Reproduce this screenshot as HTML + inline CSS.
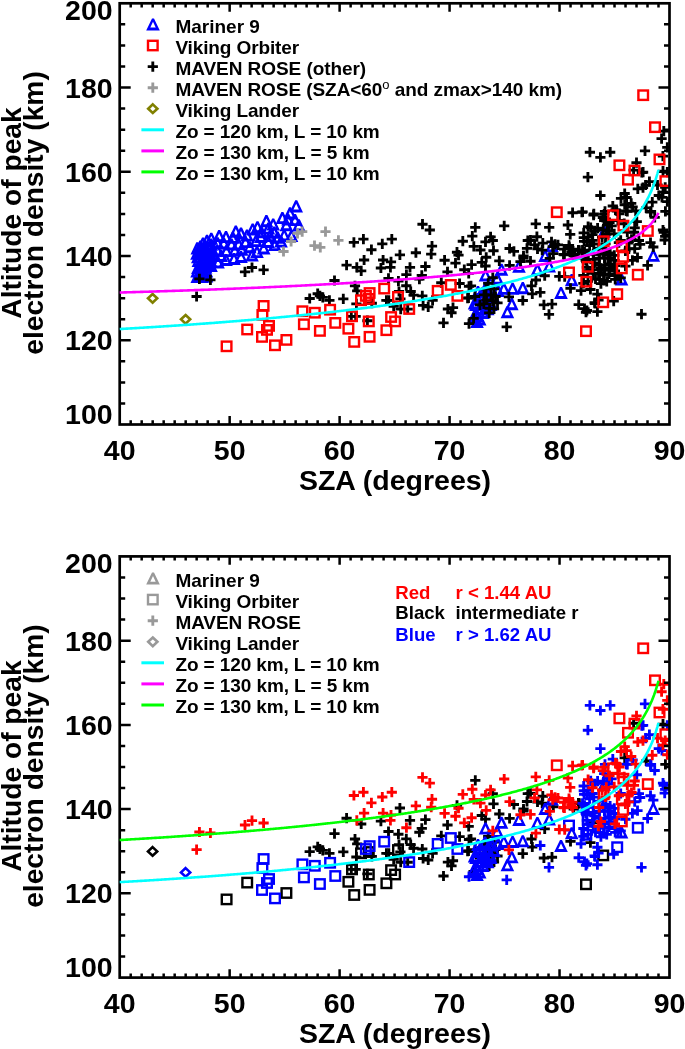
<!DOCTYPE html><html><head><meta charset="utf-8"><style>html,body{margin:0;padding:0;background:#fff;}svg{display:block;will-change:transform}</style></head><body>
<svg width="685" height="1049" viewBox="0 0 685 1049">
<rect width="685" height="1049" fill="#fff"/>
<defs><clipPath id="c1"><rect x="119.7" y="3.3" width="549.8" height="421.2"/></clipPath><clipPath id="c2"><rect x="119.7" y="556.4" width="549.8" height="421.2"/></clipPath></defs>
<g clip-path="url(#c1)"><path d="M478.7 281.6L492.3 281.6L486.5 269.5L484.5 269.5ZM482.8 278.6L488.2 278.6L485.5 272.9Z" fill="#0000ff" fill-rule="evenodd"/>
<path d="M494.7 275.7L508.3 275.7L502.5 263.7L500.5 263.7ZM498.8 272.8L504.2 272.8L501.5 267.1Z" fill="#0000ff" fill-rule="evenodd"/>
<path d="M512.2 272.8L525.8 272.8L520.0 260.8L518.0 260.8ZM516.3 269.9L521.7 269.9L519.0 264.2Z" fill="#0000ff" fill-rule="evenodd"/>
<path d="M490.4 284.7L504.0 284.7L498.2 272.6L496.2 272.6ZM494.5 281.8L499.9 281.8L497.2 276.0Z" fill="#0000ff" fill-rule="evenodd"/>
<path d="M530.6 275.8L544.2 275.8L538.4 263.8L536.4 263.8ZM534.7 272.9L540.1 272.9L537.4 267.2Z" fill="#0000ff" fill-rule="evenodd"/>
<path d="M505.8 294.8L519.4 294.8L513.6 282.8L511.6 282.8ZM509.9 291.9L515.3 291.9L512.6 286.2Z" fill="#0000ff" fill-rule="evenodd"/>
<path d="M516.0 294.2L529.6 294.2L523.8 282.1L521.8 282.1ZM520.1 291.2L525.5 291.2L522.8 285.5Z" fill="#0000ff" fill-rule="evenodd"/>
<path d="M497.0 294.8L510.6 294.8L504.8 282.8L502.8 282.8ZM501.1 291.9L506.5 291.9L503.8 286.2Z" fill="#0000ff" fill-rule="evenodd"/>
<path d="M491.2 297.1L504.8 297.1L499.0 285.0L497.0 285.0ZM495.3 294.1L500.7 294.1L498.0 288.4Z" fill="#0000ff" fill-rule="evenodd"/>
<path d="M482.4 298.4L496.0 298.4L490.2 286.4L488.2 286.4ZM486.5 295.5L491.9 295.5L489.2 289.8Z" fill="#0000ff" fill-rule="evenodd"/>
<path d="M473.6 301.4L487.2 301.4L481.4 289.4L479.4 289.4ZM477.7 298.5L483.1 298.5L480.4 292.8Z" fill="#0000ff" fill-rule="evenodd"/>
<path d="M470.7 305.1L484.3 305.1L478.5 293.0L476.5 293.0ZM474.8 302.1L480.2 302.1L477.5 296.4Z" fill="#0000ff" fill-rule="evenodd"/>
<path d="M478.0 307.9L491.6 307.9L485.8 295.9L483.8 295.9ZM482.1 305.0L487.5 305.0L484.8 299.3Z" fill="#0000ff" fill-rule="evenodd"/>
<path d="M475.1 310.9L488.7 310.9L482.9 298.9L480.9 298.9ZM479.2 308.0L484.6 308.0L481.9 302.3Z" fill="#0000ff" fill-rule="evenodd"/>
<path d="M483.9 310.9L497.5 310.9L491.7 298.9L489.7 298.9ZM488.0 308.0L493.4 308.0L490.7 302.3Z" fill="#0000ff" fill-rule="evenodd"/>
<path d="M480.9 315.2L494.5 315.2L488.7 303.2L486.7 303.2ZM485.0 312.3L490.4 312.3L487.7 306.6Z" fill="#0000ff" fill-rule="evenodd"/>
<path d="M472.2 318.2L485.8 318.2L480.0 306.2L478.0 306.2ZM476.3 315.3L481.7 315.3L479.0 309.6Z" fill="#0000ff" fill-rule="evenodd"/>
<path d="M470.7 322.6L484.3 322.6L478.5 310.5L476.5 310.5ZM474.8 319.6L480.2 319.6L477.5 313.9Z" fill="#0000ff" fill-rule="evenodd"/>
<path d="M472.9 325.6L486.5 325.6L480.7 313.5L478.7 313.5ZM477.0 322.6L482.4 322.6L479.7 316.9Z" fill="#0000ff" fill-rule="evenodd"/>
<path d="M505.0 310.2L518.6 310.2L512.8 298.1L510.8 298.1ZM509.1 307.2L514.5 307.2L511.8 301.5Z" fill="#0000ff" fill-rule="evenodd"/>
<path d="M500.6 318.2L514.2 318.2L508.4 306.2L506.4 306.2ZM504.7 315.3L510.1 315.3L507.4 309.6Z" fill="#0000ff" fill-rule="evenodd"/>
<path d="M554.2 298.9L567.8 298.9L562.0 286.9L560.0 286.9ZM558.3 296.0L563.7 296.0L561.0 290.3Z" fill="#0000ff" fill-rule="evenodd"/>
<path d="M467.8 309.4L481.4 309.4L475.6 297.4L473.6 297.4ZM471.9 306.5L477.3 306.5L474.6 300.8Z" fill="#0000ff" fill-rule="evenodd"/>
<path d="M538.3 261.9L551.9 261.9L546.1 249.9L544.1 249.9ZM542.4 259.0L547.8 259.0L545.1 253.3Z" fill="#0000ff" fill-rule="evenodd"/>
<path d="M542.4 272.6L556.0 272.6L550.2 260.5L548.2 260.5ZM546.5 269.6L551.9 269.6L549.2 263.9Z" fill="#0000ff" fill-rule="evenodd"/>
<path d="M564.9 286.2L578.5 286.2L572.7 274.1L570.7 274.1ZM569.0 283.2L574.4 283.2L571.7 277.5Z" fill="#0000ff" fill-rule="evenodd"/>
<path d="M646.5 261.8L660.1 261.8L654.3 249.8L652.3 249.8ZM650.6 258.9L656.0 258.9L653.3 253.2Z" fill="#0000ff" fill-rule="evenodd"/>
<path d="M614.7 285.4L628.3 285.4L622.5 273.4L620.5 273.4ZM618.8 282.5L624.2 282.5L621.5 276.8Z" fill="#0000ff" fill-rule="evenodd"/>
<path d="M545.2 252.3L558.8 252.3L553.0 240.3L551.0 240.3ZM549.3 249.4L554.7 249.4L552.0 243.7Z" fill="#0000ff" fill-rule="evenodd"/>
<path d="M597.4 237.7L611.0 237.7L605.2 225.7L603.2 225.7ZM601.5 234.8L606.9 234.8L604.2 229.1Z" fill="#0000ff" fill-rule="evenodd"/>
<path d="M471.2 297.9L484.8 297.9L479.0 285.9L477.0 285.9ZM475.3 295.0L480.7 295.0L478.0 289.3Z" fill="#0000ff" fill-rule="evenodd"/>
<path d="M478.2 295.4L491.8 295.4L486.0 283.4L484.0 283.4ZM482.3 292.5L487.7 292.5L485.0 286.8Z" fill="#0000ff" fill-rule="evenodd"/>
<path d="M485.2 297.9L498.8 297.9L493.0 285.9L491.0 285.9ZM489.3 295.0L494.7 295.0L492.0 289.3Z" fill="#0000ff" fill-rule="evenodd"/>
<path d="M481.2 302.9L494.8 302.9L489.0 290.9L487.0 290.9ZM485.3 300.0L490.7 300.0L488.0 294.3Z" fill="#0000ff" fill-rule="evenodd"/>
<path d="M475.2 304.9L488.8 304.9L483.0 292.9L481.0 292.9ZM479.3 302.0L484.7 302.0L482.0 296.3Z" fill="#0000ff" fill-rule="evenodd"/>
<path d="M469.2 310.9L482.8 310.9L477.0 298.9L475.0 298.9ZM473.3 308.0L478.7 308.0L476.0 302.3Z" fill="#0000ff" fill-rule="evenodd"/>
<path d="M483.2 308.4L496.8 308.4L491.0 296.4L489.0 296.4ZM487.3 305.5L492.7 305.5L490.0 299.8Z" fill="#0000ff" fill-rule="evenodd"/>
<path d="M487.2 303.9L500.8 303.9L495.0 291.9L493.0 291.9ZM491.3 301.0L496.7 301.0L494.0 295.3Z" fill="#0000ff" fill-rule="evenodd"/>
<path d="M473.2 314.9L486.8 314.9L481.0 302.9L479.0 302.9ZM477.3 312.0L482.7 312.0L480.0 306.3Z" fill="#0000ff" fill-rule="evenodd"/>
<path d="M479.2 313.4L492.8 313.4L487.0 301.4L485.0 301.4ZM483.3 310.5L488.7 310.5L486.0 304.8Z" fill="#0000ff" fill-rule="evenodd"/>
<path d="M467.2 322.9L480.8 322.9L475.0 310.9L473.0 310.9ZM471.3 320.0L476.7 320.0L474.0 314.3Z" fill="#0000ff" fill-rule="evenodd"/>
<path d="M470.2 327.9L483.8 327.9L478.0 315.9L476.0 315.9ZM474.3 325.0L479.7 325.0L477.0 319.3Z" fill="#0000ff" fill-rule="evenodd"/>
<path d="M476.2 318.9L489.8 318.9L484.0 306.9L482.0 306.9ZM480.3 316.0L485.7 316.0L483.0 310.3Z" fill="#0000ff" fill-rule="evenodd"/>
<path d="M289.4 212.4L303.0 212.4L297.2 200.3L295.2 200.3ZM293.5 209.5L298.9 209.5L296.2 203.7Z" fill="#0000ff" fill-rule="evenodd"/>
<path d="M283.2 219.4L296.8 219.4L291.0 207.3L289.0 207.3ZM287.3 216.5L292.7 216.5L290.0 210.7Z" fill="#0000ff" fill-rule="evenodd"/>
<path d="M292.0 231.4L305.6 231.4L299.8 219.3L297.8 219.3ZM296.1 228.5L301.5 228.5L298.8 222.7Z" fill="#0000ff" fill-rule="evenodd"/>
<path d="M275.6 224.1L289.2 224.1L283.4 212.0L281.4 212.0ZM279.7 221.2L285.1 221.2L282.4 215.4Z" fill="#0000ff" fill-rule="evenodd"/>
<path d="M259.6 227.2L273.2 227.2L267.4 215.1L265.4 215.1ZM263.7 224.2L269.1 224.2L266.4 218.5Z" fill="#0000ff" fill-rule="evenodd"/>
<path d="M266.4 230.5L280.0 230.5L274.2 218.4L272.2 218.4ZM270.5 227.6L275.9 227.6L273.2 221.8Z" fill="#0000ff" fill-rule="evenodd"/>
<path d="M279.6 231.2L293.2 231.2L287.4 219.1L285.4 219.1ZM283.7 228.2L289.1 228.2L286.4 222.5Z" fill="#0000ff" fill-rule="evenodd"/>
<path d="M250.7 233.2L264.3 233.2L258.5 221.2L256.5 221.2ZM254.8 230.3L260.2 230.3L257.5 224.6Z" fill="#0000ff" fill-rule="evenodd"/>
<path d="M245.9 235.5L259.5 235.5L253.7 223.4L251.7 223.4ZM250.0 232.6L255.4 232.6L252.7 226.8Z" fill="#0000ff" fill-rule="evenodd"/>
<path d="M240.2 241.6L253.8 241.6L248.0 229.5L246.0 229.5ZM244.3 238.7L249.7 238.7L247.0 232.9Z" fill="#0000ff" fill-rule="evenodd"/>
<path d="M277.4 241.5L291.0 241.5L285.2 229.4L283.2 229.4ZM281.5 238.6L286.9 238.6L284.2 232.8Z" fill="#0000ff" fill-rule="evenodd"/>
<path d="M270.8 243.7L284.4 243.7L278.6 231.6L276.6 231.6ZM274.9 240.8L280.3 240.8L277.6 235.0Z" fill="#0000ff" fill-rule="evenodd"/>
<path d="M261.3 248.0L274.9 248.0L269.1 235.9L267.1 235.9ZM265.4 245.1L270.8 245.1L268.1 239.3Z" fill="#0000ff" fill-rule="evenodd"/>
<path d="M254.0 242.9L267.6 242.9L261.8 230.8L259.8 230.8ZM258.1 240.0L263.5 240.0L260.8 234.2Z" fill="#0000ff" fill-rule="evenodd"/>
<path d="M267.9 251.1L281.5 251.1L275.7 239.0L273.7 239.0ZM272.0 248.2L277.4 248.2L274.7 242.4Z" fill="#0000ff" fill-rule="evenodd"/>
<path d="M284.7 242.1L298.3 242.1L292.5 230.0L290.5 230.0ZM288.8 239.2L294.2 239.2L291.5 233.4Z" fill="#0000ff" fill-rule="evenodd"/>
<path d="M267.4 238.7L281.0 238.7L275.2 226.6L273.2 226.6ZM271.5 235.8L276.9 235.8L274.2 230.0Z" fill="#0000ff" fill-rule="evenodd"/>
<path d="M254.6 238.2L268.2 238.2L262.4 226.2L260.4 226.2ZM258.7 235.3L264.1 235.3L261.4 229.6Z" fill="#0000ff" fill-rule="evenodd"/>
<path d="M256.9 254.5L270.5 254.5L264.7 242.4L262.7 242.4ZM261.0 251.6L266.4 251.6L263.7 245.8Z" fill="#0000ff" fill-rule="evenodd"/>
<path d="M242.9 253.2L256.5 253.2L250.7 241.2L248.7 241.2ZM247.0 250.3L252.4 250.3L249.7 244.6Z" fill="#0000ff" fill-rule="evenodd"/>
<path d="M245.2 261.4L258.8 261.4L253.0 249.4L251.0 249.4ZM249.3 258.6L254.7 258.6L252.0 252.8Z" fill="#0000ff" fill-rule="evenodd"/>
<path d="M261.6 234.6L275.2 234.6L269.4 222.5L267.4 222.5ZM265.7 231.7L271.1 231.7L268.4 225.9Z" fill="#0000ff" fill-rule="evenodd"/>
<path d="M249.2 247.1L262.8 247.1L257.0 235.0L255.0 235.0ZM253.3 244.2L258.7 244.2L256.0 238.4Z" fill="#0000ff" fill-rule="evenodd"/>
<path d="M274.2 247.6L287.8 247.6L282.0 235.5L280.0 235.5ZM278.3 244.7L283.7 244.7L281.0 238.9Z" fill="#0000ff" fill-rule="evenodd"/>
<path d="M288.2 226.1L301.8 226.1L296.0 214.0L294.0 214.0ZM292.3 223.2L297.7 223.2L295.0 217.4Z" fill="#0000ff" fill-rule="evenodd"/>
<path d="M281.2 225.6L294.8 225.6L289.0 213.5L287.0 213.5ZM285.3 222.7L290.7 222.7L288.0 216.9Z" fill="#0000ff" fill-rule="evenodd"/>
<path d="M238.7 248.1L252.3 248.1L246.5 236.0L244.5 236.0ZM242.8 245.2L248.2 245.2L245.5 239.4Z" fill="#0000ff" fill-rule="evenodd"/>
<path d="M250.2 258.1L263.8 258.1L258.0 246.0L256.0 246.0ZM254.3 255.2L259.7 255.2L257.0 249.4Z" fill="#0000ff" fill-rule="evenodd"/>
<path d="M263.2 242.1L276.8 242.1L271.0 230.0L269.0 230.0ZM267.3 239.2L272.7 239.2L270.0 233.4Z" fill="#0000ff" fill-rule="evenodd"/>
<path d="M190.5 254.4L204.1 254.4L198.3 242.3L196.3 242.3ZM194.6 251.5L200.0 251.5L197.3 245.7Z" fill="#0000ff" fill-rule="evenodd"/>
<path d="M196.2 249.6L209.8 249.6L204.0 237.5L202.0 237.5ZM200.3 246.7L205.7 246.7L203.0 240.9Z" fill="#0000ff" fill-rule="evenodd"/>
<path d="M200.2 246.9L213.8 246.9L208.0 234.8L206.0 234.8ZM204.3 244.0L209.7 244.0L207.0 238.2Z" fill="#0000ff" fill-rule="evenodd"/>
<path d="M204.5 244.8L218.1 244.8L212.3 232.7L210.3 232.7ZM208.6 241.8L214.0 241.8L211.3 236.1Z" fill="#0000ff" fill-rule="evenodd"/>
<path d="M212.4 242.1L226.0 242.1L220.2 230.0L218.2 230.0ZM216.5 239.2L221.9 239.2L219.2 233.4Z" fill="#0000ff" fill-rule="evenodd"/>
<path d="M219.2 243.1L232.8 243.1L227.0 231.0L225.0 231.0ZM223.3 240.2L228.7 240.2L226.0 234.4Z" fill="#0000ff" fill-rule="evenodd"/>
<path d="M229.0 237.7L242.6 237.7L236.8 225.6L234.8 225.6ZM233.1 234.8L238.5 234.8L235.8 229.0Z" fill="#0000ff" fill-rule="evenodd"/>
<path d="M234.2 239.6L247.8 239.6L242.0 227.5L240.0 227.5ZM238.3 236.7L243.7 236.7L241.0 230.9Z" fill="#0000ff" fill-rule="evenodd"/>
<path d="M190.5 282.9L204.1 282.9L198.3 270.8L196.3 270.8ZM194.6 279.9L200.0 279.9L197.3 274.2Z" fill="#0000ff" fill-rule="evenodd"/>
<path d="M195.2 283.1L208.8 283.1L203.0 271.0L201.0 271.0ZM199.3 280.1L204.7 280.1L202.0 274.4Z" fill="#0000ff" fill-rule="evenodd"/>
<path d="M199.7 282.6L213.3 282.6L207.5 270.5L205.5 270.5ZM203.8 279.6L209.2 279.6L206.5 273.9Z" fill="#0000ff" fill-rule="evenodd"/>
<path d="M204.2 272.1L217.8 272.1L212.0 260.0L210.0 260.0ZM208.3 269.1L213.7 269.1L211.0 263.4Z" fill="#0000ff" fill-rule="evenodd"/>
<path d="M211.2 268.6L224.8 268.6L219.0 256.5L217.0 256.5ZM215.3 265.6L220.7 265.6L218.0 259.9Z" fill="#0000ff" fill-rule="evenodd"/>
<path d="M219.2 266.1L232.8 266.1L227.0 254.0L225.0 254.0ZM223.3 263.1L228.7 263.1L226.0 257.4Z" fill="#0000ff" fill-rule="evenodd"/>
<path d="M227.2 265.1L240.8 265.1L235.0 253.0L233.0 253.0ZM231.3 262.1L236.7 262.1L234.0 256.4Z" fill="#0000ff" fill-rule="evenodd"/>
<path d="M234.2 263.1L247.8 263.1L242.0 251.0L240.0 251.0ZM238.3 260.1L243.7 260.1L241.0 254.4Z" fill="#0000ff" fill-rule="evenodd"/>
<path d="M210.6 256.7L224.2 256.7L218.4 244.7L216.4 244.7ZM214.7 253.8L220.1 253.8L217.4 248.1Z" fill="#0000ff" fill-rule="evenodd"/>
<path d="M231.8 250.3L245.4 250.3L239.6 238.2L237.6 238.2ZM235.9 247.4L241.3 247.4L238.6 241.6Z" fill="#0000ff" fill-rule="evenodd"/>
<path d="M198.5 265.7L212.1 265.7L206.3 253.6L204.3 253.6ZM202.6 262.8L208.0 262.8L205.3 257.0Z" fill="#0000ff" fill-rule="evenodd"/>
<path d="M194.4 260.4L208.0 260.4L202.2 248.4L200.2 248.4ZM198.5 257.5L203.9 257.5L201.2 251.8Z" fill="#0000ff" fill-rule="evenodd"/>
<path d="M194.3 276.8L207.9 276.8L202.1 264.7L200.1 264.7ZM198.4 273.9L203.8 273.9L201.1 268.1Z" fill="#0000ff" fill-rule="evenodd"/>
<path d="M219.6 257.1L233.2 257.1L227.4 245.0L225.4 245.0ZM223.7 254.2L229.1 254.2L226.4 248.4Z" fill="#0000ff" fill-rule="evenodd"/>
<path d="M198.8 256.1L212.4 256.1L206.6 244.0L204.6 244.0ZM202.9 253.2L208.3 253.2L205.6 247.4Z" fill="#0000ff" fill-rule="evenodd"/>
<path d="M191.6 267.0L205.2 267.0L199.4 255.0L197.4 255.0ZM195.7 264.1L201.1 264.1L198.4 258.4Z" fill="#0000ff" fill-rule="evenodd"/>
<path d="M210.8 249.3L224.4 249.3L218.6 237.2L216.6 237.2ZM214.9 246.4L220.3 246.4L217.6 240.6Z" fill="#0000ff" fill-rule="evenodd"/>
<path d="M228.0 256.5L241.6 256.5L235.8 244.5L233.8 244.5ZM232.1 253.6L237.5 253.6L234.8 247.9Z" fill="#0000ff" fill-rule="evenodd"/>
<path d="M204.4 250.7L218.0 250.7L212.2 238.6L210.2 238.6ZM208.5 247.8L213.9 247.8L211.2 242.0Z" fill="#0000ff" fill-rule="evenodd"/>
<path d="M224.7 250.5L238.3 250.5L232.5 238.4L230.5 238.4ZM228.8 247.6L234.2 247.6L231.5 241.8Z" fill="#0000ff" fill-rule="evenodd"/>
<path d="M190.2 259.8L203.8 259.8L198.0 247.8L196.0 247.8ZM194.3 256.9L199.7 256.9L197.0 251.2Z" fill="#0000ff" fill-rule="evenodd"/>
<path d="M193.5 271.3L207.1 271.3L201.3 259.2L199.3 259.2ZM197.6 268.4L203.0 268.4L200.3 262.6Z" fill="#0000ff" fill-rule="evenodd"/>
<path d="M226.1 243.8L239.7 243.8L233.9 231.8L231.9 231.8ZM230.2 240.9L235.6 240.9L232.9 235.2Z" fill="#0000ff" fill-rule="evenodd"/>
<path d="M198.8 273.4L212.4 273.4L206.6 261.3L204.6 261.3ZM202.9 270.5L208.3 270.5L205.6 264.7Z" fill="#0000ff" fill-rule="evenodd"/>
<path d="M203.9 267.2L217.5 267.2L211.7 255.2L209.7 255.2ZM208.0 264.3L213.4 264.3L210.7 258.6Z" fill="#0000ff" fill-rule="evenodd"/>
<path d="M199.7 261.1L213.3 261.1L207.5 249.1L205.5 249.1ZM203.8 258.2L209.2 258.2L206.5 252.5Z" fill="#0000ff" fill-rule="evenodd"/>
<path d="M200.9 268.9L214.5 268.9L208.7 256.9L206.7 256.9ZM205.0 266.0L210.4 266.0L207.7 260.3Z" fill="#0000ff" fill-rule="evenodd"/>
<path d="M217.0 249.5L230.6 249.5L224.8 237.4L222.8 237.4ZM221.1 246.6L226.5 246.6L223.8 240.8Z" fill="#0000ff" fill-rule="evenodd"/>
<path d="M206.0 261.5L219.6 261.5L213.8 249.5L211.8 249.5ZM210.1 258.6L215.5 258.6L212.8 252.9Z" fill="#0000ff" fill-rule="evenodd"/>
<path d="M193.6 252.5L207.2 252.5L201.4 240.4L199.4 240.4ZM197.7 249.6L203.1 249.6L200.4 243.8Z" fill="#0000ff" fill-rule="evenodd"/>
<path d="M202.5 254.3L216.1 254.3L210.3 242.2L208.3 242.2ZM206.6 251.4L212.0 251.4L209.3 245.6Z" fill="#0000ff" fill-rule="evenodd"/>
<path d="M214.4 261.9L228.0 261.9L222.2 249.8L220.2 249.8ZM218.5 259.0L223.9 259.0L221.2 253.2Z" fill="#0000ff" fill-rule="evenodd"/>
<path d="M203.3 263.5L216.9 263.5L211.1 251.5L209.1 251.5ZM207.4 260.6L212.8 260.6L210.1 254.9Z" fill="#0000ff" fill-rule="evenodd"/>
<path d="M199.6 277.5L213.2 277.5L207.4 265.5L205.4 265.5ZM203.7 274.6L209.1 274.6L206.4 268.9Z" fill="#0000ff" fill-rule="evenodd"/>
<path d="M205.6 256.2L219.2 256.2L213.4 244.2L211.4 244.2ZM209.7 253.3L215.1 253.3L212.4 247.6Z" fill="#0000ff" fill-rule="evenodd"/>
<path d="M190.3 277.6L203.9 277.6L198.1 265.6L196.1 265.6ZM194.4 274.7L199.8 274.7L197.1 269.0Z" fill="#0000ff" fill-rule="evenodd"/>
<path d="M191.0 263.3L204.6 263.3L198.8 251.3L196.8 251.3ZM195.1 260.4L200.5 260.4L197.8 254.7Z" fill="#0000ff" fill-rule="evenodd"/>
<path d="M196.3 279.6L209.9 279.6L204.1 267.6L202.1 267.6ZM200.4 276.7L205.8 276.7L203.1 271.0Z" fill="#0000ff" fill-rule="evenodd"/>
<path d="M202.8 259.2L216.4 259.2L210.6 247.2L208.6 247.2ZM206.9 256.3L212.3 256.3L209.6 250.6Z" fill="#0000ff" fill-rule="evenodd"/>
<path d="M234.9 255.7L248.5 255.7L242.7 243.7L240.7 243.7ZM239.0 252.8L244.4 252.8L241.7 247.1Z" fill="#0000ff" fill-rule="evenodd"/>
<path d="M197.4 269.8L211.0 269.8L205.2 257.7L203.2 257.7ZM201.5 266.9L206.9 266.9L204.2 261.1Z" fill="#0000ff" fill-rule="evenodd"/>
<path d="M193.7 257.1L207.3 257.1L201.5 245.0L199.5 245.0ZM197.8 254.2L203.2 254.2L200.5 248.4Z" fill="#0000ff" fill-rule="evenodd"/>
<path d="M198.3 252.3L211.9 252.3L206.1 240.2L204.1 240.2ZM202.4 249.4L207.8 249.4L205.1 243.6Z" fill="#0000ff" fill-rule="evenodd"/>
<path d="M191.1 274.0L204.7 274.0L198.9 262.0L196.9 262.0ZM195.2 271.1L200.6 271.1L197.9 265.4Z" fill="#0000ff" fill-rule="evenodd"/>
<path d="M194.9 266.3L208.5 266.3L202.7 254.2L200.7 254.2ZM199.0 263.4L204.4 263.4L201.7 257.6Z" fill="#0000ff" fill-rule="evenodd"/>
<path d="M192.8 280.0L206.4 280.0L200.6 267.9L198.6 267.9ZM196.9 277.1L202.3 277.1L199.6 271.3Z" fill="#0000ff" fill-rule="evenodd"/>
<path d="M191.5 296.5h10.2M196.6 291.4v10.2" stroke="#000000" stroke-width="2.85" fill="none"/>
<path d="M194.3 278.9h10.2M199.4 273.8v10.2" stroke="#000000" stroke-width="2.85" fill="none"/>
<path d="M205.3 279.9h10.2M210.4 274.8v10.2" stroke="#000000" stroke-width="2.85" fill="none"/>
<path d="M239.9 271.9h10.2M245.0 266.8v10.2" stroke="#000000" stroke-width="2.85" fill="none"/>
<path d="M246.9 267.5h10.2M252.0 262.4v10.2" stroke="#000000" stroke-width="2.85" fill="none"/>
<path d="M258.5 269.9h10.2M263.6 264.8v10.2" stroke="#000000" stroke-width="2.85" fill="none"/>
<path d="M329.4 280.5h10.2M334.5 275.4v10.2" stroke="#000000" stroke-width="2.85" fill="none"/>
<path d="M349.9 285.9h10.2M355.0 280.8v10.2" stroke="#000000" stroke-width="2.85" fill="none"/>
<path d="M304.6 298.5h10.2M309.7 293.4v10.2" stroke="#000000" stroke-width="2.85" fill="none"/>
<path d="M312.6 293.7h10.2M317.7 288.6v10.2" stroke="#000000" stroke-width="2.85" fill="none"/>
<path d="M314.8 295.9h10.2M319.9 290.8v10.2" stroke="#000000" stroke-width="2.85" fill="none"/>
<path d="M317.7 297.3h10.2M322.8 292.2v10.2" stroke="#000000" stroke-width="2.85" fill="none"/>
<path d="M324.3 300.3h10.2M329.4 295.2v10.2" stroke="#000000" stroke-width="2.85" fill="none"/>
<path d="M338.2 298.8h10.2M343.3 293.7v10.2" stroke="#000000" stroke-width="2.85" fill="none"/>
<path d="M352.1 290.8h10.2M357.2 285.7v10.2" stroke="#000000" stroke-width="2.85" fill="none"/>
<path d="M351.3 303.9h10.2M356.4 298.8v10.2" stroke="#000000" stroke-width="2.85" fill="none"/>
<path d="M366.7 303.2h10.2M371.8 298.1v10.2" stroke="#000000" stroke-width="2.85" fill="none"/>
<path d="M381.3 300.3h10.2M386.4 295.2v10.2" stroke="#000000" stroke-width="2.85" fill="none"/>
<path d="M383.4 278.4h10.2M388.5 273.3v10.2" stroke="#000000" stroke-width="2.85" fill="none"/>
<path d="M362.3 320.7h10.2M367.4 315.6v10.2" stroke="#000000" stroke-width="2.85" fill="none"/>
<path d="M346.2 316.3h10.2M351.3 311.2v10.2" stroke="#000000" stroke-width="2.85" fill="none"/>
<path d="M350.6 316.3h10.2M355.7 311.2v10.2" stroke="#000000" stroke-width="2.85" fill="none"/>
<path d="M401.2 285.7h10.2M406.3 280.6v10.2" stroke="#000000" stroke-width="2.85" fill="none"/>
<path d="M393.9 291.5h10.2M399.0 286.4v10.2" stroke="#000000" stroke-width="2.85" fill="none"/>
<path d="M405.6 291.5h10.2M410.7 286.4v10.2" stroke="#000000" stroke-width="2.85" fill="none"/>
<path d="M408.5 295.1h10.2M413.6 290.0v10.2" stroke="#000000" stroke-width="2.85" fill="none"/>
<path d="M383.7 300.3h10.2M388.8 295.2v10.2" stroke="#000000" stroke-width="2.85" fill="none"/>
<path d="M395.3 298.8h10.2M400.4 293.7v10.2" stroke="#000000" stroke-width="2.85" fill="none"/>
<path d="M417.2 295.9h10.2M422.3 290.8v10.2" stroke="#000000" stroke-width="2.85" fill="none"/>
<path d="M418.0 305.4h10.2M423.1 300.3v10.2" stroke="#000000" stroke-width="2.85" fill="none"/>
<path d="M423.1 306.9h10.2M428.2 301.8v10.2" stroke="#000000" stroke-width="2.85" fill="none"/>
<path d="M427.5 300.3h10.2M432.6 295.2v10.2" stroke="#000000" stroke-width="2.85" fill="none"/>
<path d="M436.2 282.7h10.2M441.3 277.6v10.2" stroke="#000000" stroke-width="2.85" fill="none"/>
<path d="M454.5 283.5h10.2M459.6 278.4v10.2" stroke="#000000" stroke-width="2.85" fill="none"/>
<path d="M463.9 286.4h10.2M469.0 281.3v10.2" stroke="#000000" stroke-width="2.85" fill="none"/>
<path d="M462.5 298.1h10.2M467.6 293.0v10.2" stroke="#000000" stroke-width="2.85" fill="none"/>
<path d="M442.8 309.0h10.2M447.9 303.9v10.2" stroke="#000000" stroke-width="2.85" fill="none"/>
<path d="M447.9 307.6h10.2M453.0 302.5v10.2" stroke="#000000" stroke-width="2.85" fill="none"/>
<path d="M446.4 312.7h10.2M451.5 307.6v10.2" stroke="#000000" stroke-width="2.85" fill="none"/>
<path d="M438.4 322.9h10.2M443.5 317.8v10.2" stroke="#000000" stroke-width="2.85" fill="none"/>
<path d="M414.3 279.1h10.2M419.4 274.0v10.2" stroke="#000000" stroke-width="2.85" fill="none"/>
<path d="M463.9 323.6h10.2M469.0 318.5v10.2" stroke="#000000" stroke-width="2.85" fill="none"/>
<path d="M348.8 242.4h10.2M353.9 237.3v10.2" stroke="#000000" stroke-width="2.85" fill="none"/>
<path d="M358.3 239.1h10.2M363.4 234.0v10.2" stroke="#000000" stroke-width="2.85" fill="none"/>
<path d="M366.3 249.7h10.2M371.4 244.6v10.2" stroke="#000000" stroke-width="2.85" fill="none"/>
<path d="M377.2 243.9h10.2M382.3 238.8v10.2" stroke="#000000" stroke-width="2.85" fill="none"/>
<path d="M386.7 239.1h10.2M391.8 234.0v10.2" stroke="#000000" stroke-width="2.85" fill="none"/>
<path d="M359.0 260.0h10.2M364.1 254.9v10.2" stroke="#000000" stroke-width="2.85" fill="none"/>
<path d="M378.0 260.0h10.2M383.1 254.9v10.2" stroke="#000000" stroke-width="2.85" fill="none"/>
<path d="M385.9 261.9h10.2M391.0 256.8v10.2" stroke="#000000" stroke-width="2.85" fill="none"/>
<path d="M385.3 267.3h10.2M390.4 262.2v10.2" stroke="#000000" stroke-width="2.85" fill="none"/>
<path d="M351.7 267.3h10.2M356.8 262.2v10.2" stroke="#000000" stroke-width="2.85" fill="none"/>
<path d="M417.4 224.2h10.2M422.5 219.1v10.2" stroke="#000000" stroke-width="2.85" fill="none"/>
<path d="M424.7 230.0h10.2M429.8 224.9v10.2" stroke="#000000" stroke-width="2.85" fill="none"/>
<path d="M410.8 252.7h10.2M415.9 247.6v10.2" stroke="#000000" stroke-width="2.85" fill="none"/>
<path d="M426.9 246.1h10.2M432.0 241.0v10.2" stroke="#000000" stroke-width="2.85" fill="none"/>
<path d="M426.1 254.1h10.2M431.2 249.0v10.2" stroke="#000000" stroke-width="2.85" fill="none"/>
<path d="M401.3 274.6h10.2M406.4 269.5v10.2" stroke="#000000" stroke-width="2.85" fill="none"/>
<path d="M341.5 265.1h10.2M346.6 260.0v10.2" stroke="#000000" stroke-width="2.85" fill="none"/>
<path d="M356.1 270.9h10.2M361.2 265.8v10.2" stroke="#000000" stroke-width="2.85" fill="none"/>
<path d="M375.8 268.0h10.2M380.9 262.9v10.2" stroke="#000000" stroke-width="2.85" fill="none"/>
<path d="M394.8 254.9h10.2M399.9 249.8v10.2" stroke="#000000" stroke-width="2.85" fill="none"/>
<path d="M404.9 267.3h10.2M410.0 262.2v10.2" stroke="#000000" stroke-width="2.85" fill="none"/>
<path d="M420.3 266.5h10.2M425.4 261.4v10.2" stroke="#000000" stroke-width="2.85" fill="none"/>
<path d="M416.7 275.3h10.2M421.8 270.2v10.2" stroke="#000000" stroke-width="2.85" fill="none"/>
<path d="M393.3 281.1h10.2M398.4 276.0v10.2" stroke="#000000" stroke-width="2.85" fill="none"/>
<path d="M499.1 225.9h10.2M504.2 220.8v10.2" stroke="#000000" stroke-width="2.85" fill="none"/>
<path d="M467.2 236.1h10.2M472.3 231.0v10.2" stroke="#000000" stroke-width="2.85" fill="none"/>
<path d="M457.7 241.2h10.2M462.8 236.1v10.2" stroke="#000000" stroke-width="2.85" fill="none"/>
<path d="M485.5 236.8h10.2M490.6 231.7v10.2" stroke="#000000" stroke-width="2.85" fill="none"/>
<path d="M480.4 241.9h10.2M485.5 236.8v10.2" stroke="#000000" stroke-width="2.85" fill="none"/>
<path d="M468.7 246.3h10.2M473.8 241.2v10.2" stroke="#000000" stroke-width="2.85" fill="none"/>
<path d="M475.3 250.0h10.2M480.4 244.9v10.2" stroke="#000000" stroke-width="2.85" fill="none"/>
<path d="M481.1 257.3h10.2M486.2 252.2v10.2" stroke="#000000" stroke-width="2.85" fill="none"/>
<path d="M504.5 248.5h10.2M509.6 243.4v10.2" stroke="#000000" stroke-width="2.85" fill="none"/>
<path d="M453.4 255.1h10.2M458.5 250.0v10.2" stroke="#000000" stroke-width="2.85" fill="none"/>
<path d="M439.5 260.2h10.2M444.6 255.1v10.2" stroke="#000000" stroke-width="2.85" fill="none"/>
<path d="M450.4 263.1h10.2M455.5 258.0v10.2" stroke="#000000" stroke-width="2.85" fill="none"/>
<path d="M466.5 264.6h10.2M471.6 259.5v10.2" stroke="#000000" stroke-width="2.85" fill="none"/>
<path d="M459.2 269.7h10.2M464.3 264.6v10.2" stroke="#000000" stroke-width="2.85" fill="none"/>
<path d="M487.7 277.7h10.2M492.8 272.6v10.2" stroke="#000000" stroke-width="2.85" fill="none"/>
<path d="M515.4 261.6h10.2M520.5 256.5v10.2" stroke="#000000" stroke-width="2.85" fill="none"/>
<path d="M470.2 227.3h10.2M475.3 222.2v10.2" stroke="#000000" stroke-width="2.85" fill="none"/>
<path d="M487.7 240.5h10.2M492.8 235.4v10.2" stroke="#000000" stroke-width="2.85" fill="none"/>
<path d="M488.4 250.7h10.2M493.5 245.6v10.2" stroke="#000000" stroke-width="2.85" fill="none"/>
<path d="M508.8 251.4h10.2M513.9 246.3v10.2" stroke="#000000" stroke-width="2.85" fill="none"/>
<path d="M522.7 240.5h10.2M527.8 235.4v10.2" stroke="#000000" stroke-width="2.85" fill="none"/>
<path d="M451.9 252.2h10.2M457.0 247.1v10.2" stroke="#000000" stroke-width="2.85" fill="none"/>
<path d="M476.7 262.4h10.2M481.8 257.3v10.2" stroke="#000000" stroke-width="2.85" fill="none"/>
<path d="M480.4 266.0h10.2M485.5 260.9v10.2" stroke="#000000" stroke-width="2.85" fill="none"/>
<path d="M494.2 260.9h10.2M499.3 255.8v10.2" stroke="#000000" stroke-width="2.85" fill="none"/>
<path d="M504.5 265.3h10.2M509.6 260.2v10.2" stroke="#000000" stroke-width="2.85" fill="none"/>
<path d="M442.4 271.9h10.2M447.5 266.8v10.2" stroke="#000000" stroke-width="2.85" fill="none"/>
<path d="M463.6 273.3h10.2M468.7 268.2v10.2" stroke="#000000" stroke-width="2.85" fill="none"/>
<path d="M518.3 258.0h10.2M523.4 252.9v10.2" stroke="#000000" stroke-width="2.85" fill="none"/>
<path d="M501.6 326.8h10.2M506.7 321.7v10.2" stroke="#000000" stroke-width="2.85" fill="none"/>
<path d="M543.9 314.3h10.2M549.0 309.2v10.2" stroke="#000000" stroke-width="2.85" fill="none"/>
<path d="M535.2 292.4h10.2M540.3 287.3v10.2" stroke="#000000" stroke-width="2.85" fill="none"/>
<path d="M530.8 280.0h10.2M535.9 274.9v10.2" stroke="#000000" stroke-width="2.85" fill="none"/>
<path d="M503.8 296.8h10.2M508.9 291.7v10.2" stroke="#000000" stroke-width="2.85" fill="none"/>
<path d="M554.2 276.4h10.2M559.3 271.3v10.2" stroke="#000000" stroke-width="2.85" fill="none"/>
<path d="M465.9 285.9h10.2M471.0 280.8v10.2" stroke="#000000" stroke-width="2.85" fill="none"/>
<path d="M526.4 285.9h10.2M531.5 280.8v10.2" stroke="#000000" stroke-width="2.85" fill="none"/>
<path d="M527.2 293.9h10.2M532.3 288.8v10.2" stroke="#000000" stroke-width="2.85" fill="none"/>
<path d="M517.7 300.5h10.2M522.8 295.4v10.2" stroke="#000000" stroke-width="2.85" fill="none"/>
<path d="M538.8 304.9h10.2M543.9 299.8v10.2" stroke="#000000" stroke-width="2.85" fill="none"/>
<path d="M546.9 304.1h10.2M552.0 299.0v10.2" stroke="#000000" stroke-width="2.85" fill="none"/>
<path d="M484.1 312.9h10.2M489.2 307.8v10.2" stroke="#000000" stroke-width="2.85" fill="none"/>
<path d="M539.6 275.7h10.2M544.7 270.6v10.2" stroke="#000000" stroke-width="2.85" fill="none"/>
<path d="M530.7 223.8h10.2M535.8 218.7v10.2" stroke="#000000" stroke-width="2.85" fill="none"/>
<path d="M544.1 227.3h10.2M549.2 222.2v10.2" stroke="#000000" stroke-width="2.85" fill="none"/>
<path d="M567.5 212.7h10.2M572.6 207.6v10.2" stroke="#000000" stroke-width="2.85" fill="none"/>
<path d="M576.8 212.2h10.2M581.9 207.1v10.2" stroke="#000000" stroke-width="2.85" fill="none"/>
<path d="M588.5 215.1h10.2M593.6 210.0v10.2" stroke="#000000" stroke-width="2.85" fill="none"/>
<path d="M562.8 225.0h10.2M567.9 219.9v10.2" stroke="#000000" stroke-width="2.85" fill="none"/>
<path d="M565.1 234.3h10.2M570.2 229.2v10.2" stroke="#000000" stroke-width="2.85" fill="none"/>
<path d="M531.8 236.7h10.2M536.9 231.6v10.2" stroke="#000000" stroke-width="2.85" fill="none"/>
<path d="M529.5 244.9h10.2M534.6 239.8v10.2" stroke="#000000" stroke-width="2.85" fill="none"/>
<path d="M546.4 241.9h10.2M551.5 236.8v10.2" stroke="#000000" stroke-width="2.85" fill="none"/>
<path d="M549.9 244.3h10.2M555.0 239.2v10.2" stroke="#000000" stroke-width="2.85" fill="none"/>
<path d="M547.6 246.6h10.2M552.7 241.5v10.2" stroke="#000000" stroke-width="2.85" fill="none"/>
<path d="M552.9 244.9h10.2M558.0 239.8v10.2" stroke="#000000" stroke-width="2.85" fill="none"/>
<path d="M563.9 245.4h10.2M569.0 240.3v10.2" stroke="#000000" stroke-width="2.85" fill="none"/>
<path d="M566.3 252.4h10.2M571.4 247.3v10.2" stroke="#000000" stroke-width="2.85" fill="none"/>
<path d="M559.3 254.8h10.2M564.4 249.7v10.2" stroke="#000000" stroke-width="2.85" fill="none"/>
<path d="M544.7 258.3h10.2M549.8 253.2v10.2" stroke="#000000" stroke-width="2.85" fill="none"/>
<path d="M525.4 261.2h10.2M530.5 256.1v10.2" stroke="#000000" stroke-width="2.85" fill="none"/>
<path d="M525.4 240.2h10.2M530.5 235.1v10.2" stroke="#000000" stroke-width="2.85" fill="none"/>
<path d="M537.7 243.1h10.2M542.8 238.0v10.2" stroke="#000000" stroke-width="2.85" fill="none"/>
<path d="M521.9 248.4h10.2M527.0 243.3v10.2" stroke="#000000" stroke-width="2.85" fill="none"/>
<path d="M532.4 248.9h10.2M537.5 243.8v10.2" stroke="#000000" stroke-width="2.85" fill="none"/>
<path d="M537.1 250.1h10.2M542.2 245.0v10.2" stroke="#000000" stroke-width="2.85" fill="none"/>
<path d="M548.2 253.6h10.2M553.3 248.5v10.2" stroke="#000000" stroke-width="2.85" fill="none"/>
<path d="M518.4 255.9h10.2M523.5 250.8v10.2" stroke="#000000" stroke-width="2.85" fill="none"/>
<path d="M573.3 250.1h10.2M578.4 245.0v10.2" stroke="#000000" stroke-width="2.85" fill="none"/>
<path d="M568.6 255.9h10.2M573.7 250.8v10.2" stroke="#000000" stroke-width="2.85" fill="none"/>
<path d="M584.8 152.2h10.2M589.9 147.1v10.2" stroke="#000000" stroke-width="2.85" fill="none"/>
<path d="M595.3 157.4h10.2M600.4 152.3v10.2" stroke="#000000" stroke-width="2.85" fill="none"/>
<path d="M605.1 152.2h10.2M610.2 147.1v10.2" stroke="#000000" stroke-width="2.85" fill="none"/>
<path d="M639.9 150.8h10.2M645.0 145.7v10.2" stroke="#000000" stroke-width="2.85" fill="none"/>
<path d="M582.8 177.1h10.2M587.9 172.0v10.2" stroke="#000000" stroke-width="2.85" fill="none"/>
<path d="M595.3 195.5h10.2M600.4 190.4v10.2" stroke="#000000" stroke-width="2.85" fill="none"/>
<path d="M636.7 172.5h10.2M641.8 167.4v10.2" stroke="#000000" stroke-width="2.85" fill="none"/>
<path d="M640.6 185.0h10.2M645.7 179.9v10.2" stroke="#000000" stroke-width="2.85" fill="none"/>
<path d="M631.4 162.7h10.2M636.5 157.6v10.2" stroke="#000000" stroke-width="2.85" fill="none"/>
<path d="M619.6 193.5h10.2M624.7 188.4v10.2" stroke="#000000" stroke-width="2.85" fill="none"/>
<path d="M621.5 197.5h10.2M626.6 192.4v10.2" stroke="#000000" stroke-width="2.85" fill="none"/>
<path d="M632.7 188.9h10.2M637.8 183.8v10.2" stroke="#000000" stroke-width="2.85" fill="none"/>
<path d="M637.9 187.6h10.2M643.0 182.5v10.2" stroke="#000000" stroke-width="2.85" fill="none"/>
<path d="M652.4 185.0h10.2M657.5 179.9v10.2" stroke="#000000" stroke-width="2.85" fill="none"/>
<path d="M647.2 202.1h10.2M652.3 197.0v10.2" stroke="#000000" stroke-width="2.85" fill="none"/>
<path d="M626.1 203.4h10.2M631.2 198.3v10.2" stroke="#000000" stroke-width="2.85" fill="none"/>
<path d="M577.5 211.9h10.2M582.6 206.8v10.2" stroke="#000000" stroke-width="2.85" fill="none"/>
<path d="M588.7 213.9h10.2M593.8 208.8v10.2" stroke="#000000" stroke-width="2.85" fill="none"/>
<path d="M610.4 210.0h10.2M615.5 204.9v10.2" stroke="#000000" stroke-width="2.85" fill="none"/>
<path d="M614.3 213.9h10.2M619.4 208.8v10.2" stroke="#000000" stroke-width="2.85" fill="none"/>
<path d="M619.6 204.7h10.2M624.7 199.6v10.2" stroke="#000000" stroke-width="2.85" fill="none"/>
<path d="M660.3 211.3h10.2M665.4 206.2v10.2" stroke="#000000" stroke-width="2.85" fill="none"/>
<path d="M599.9 211.3h10.2M605.0 206.2v10.2" stroke="#000000" stroke-width="2.85" fill="none"/>
<path d="M607.7 206.0h10.2M612.8 200.9v10.2" stroke="#000000" stroke-width="2.85" fill="none"/>
<path d="M622.2 211.3h10.2M627.3 206.2v10.2" stroke="#000000" stroke-width="2.85" fill="none"/>
<path d="M645.9 211.3h10.2M651.0 206.2v10.2" stroke="#000000" stroke-width="2.85" fill="none"/>
<path d="M653.7 195.5h10.2M658.8 190.4v10.2" stroke="#000000" stroke-width="2.85" fill="none"/>
<path d="M658.7 131.1h10.2M663.8 126.0v10.2" stroke="#000000" stroke-width="2.85" fill="none"/>
<path d="M656.5 138.6h10.2M661.6 133.5v10.2" stroke="#000000" stroke-width="2.85" fill="none"/>
<path d="M662.2 147.3h10.2M667.3 142.2v10.2" stroke="#000000" stroke-width="2.85" fill="none"/>
<path d="M657.8 156.1h10.2M662.9 151.0v10.2" stroke="#000000" stroke-width="2.85" fill="none"/>
<path d="M660.1 187.4h10.2M665.2 182.3v10.2" stroke="#000000" stroke-width="2.85" fill="none"/>
<path d="M657.9 192.1h10.2M663.0 187.0v10.2" stroke="#000000" stroke-width="2.85" fill="none"/>
<path d="M615.9 198.4h10.2M621.0 193.3v10.2" stroke="#000000" stroke-width="2.85" fill="none"/>
<path d="M662.2 201.6h10.2M667.3 196.5v10.2" stroke="#000000" stroke-width="2.85" fill="none"/>
<path d="M599.1 214.2h10.2M604.2 209.1v10.2" stroke="#000000" stroke-width="2.85" fill="none"/>
<path d="M611.7 211.0h10.2M616.8 205.9v10.2" stroke="#000000" stroke-width="2.85" fill="none"/>
<path d="M612.8 220.5h10.2M617.9 215.4v10.2" stroke="#000000" stroke-width="2.85" fill="none"/>
<path d="M630.6 211.0h10.2M635.7 205.9v10.2" stroke="#000000" stroke-width="2.85" fill="none"/>
<path d="M604.4 222.6h10.2M609.5 217.5v10.2" stroke="#000000" stroke-width="2.85" fill="none"/>
<path d="M619.1 223.7h10.2M624.2 218.6v10.2" stroke="#000000" stroke-width="2.85" fill="none"/>
<path d="M629.6 227.9h10.2M634.7 222.8v10.2" stroke="#000000" stroke-width="2.85" fill="none"/>
<path d="M622.2 232.1h10.2M627.3 227.0v10.2" stroke="#000000" stroke-width="2.85" fill="none"/>
<path d="M601.2 234.2h10.2M606.3 229.1v10.2" stroke="#000000" stroke-width="2.85" fill="none"/>
<path d="M597.0 237.3h10.2M602.1 232.2v10.2" stroke="#000000" stroke-width="2.85" fill="none"/>
<path d="M613.8 242.6h10.2M618.9 237.5v10.2" stroke="#000000" stroke-width="2.85" fill="none"/>
<path d="M626.4 239.4h10.2M631.5 234.3v10.2" stroke="#000000" stroke-width="2.85" fill="none"/>
<path d="M638.0 172.2h10.2M643.1 167.1v10.2" stroke="#000000" stroke-width="2.85" fill="none"/>
<path d="M644.3 181.6h10.2M649.4 176.5v10.2" stroke="#000000" stroke-width="2.85" fill="none"/>
<path d="M662.2 172.2h10.2M667.3 167.1v10.2" stroke="#000000" stroke-width="2.85" fill="none"/>
<path d="M621.2 211.0h10.2M626.3 205.9v10.2" stroke="#000000" stroke-width="2.85" fill="none"/>
<path d="M627.5 206.9h10.2M632.6 201.8v10.2" stroke="#000000" stroke-width="2.85" fill="none"/>
<path d="M645.4 212.1h10.2M650.5 207.0v10.2" stroke="#000000" stroke-width="2.85" fill="none"/>
<path d="M649.6 217.4h10.2M654.7 212.3v10.2" stroke="#000000" stroke-width="2.85" fill="none"/>
<path d="M599.1 220.5h10.2M604.2 215.4v10.2" stroke="#000000" stroke-width="2.85" fill="none"/>
<path d="M606.5 225.8h10.2M611.6 220.7v10.2" stroke="#000000" stroke-width="2.85" fill="none"/>
<path d="M657.9 230.0h10.2M663.0 224.9v10.2" stroke="#000000" stroke-width="2.85" fill="none"/>
<path d="M660.1 236.3h10.2M665.2 231.2v10.2" stroke="#000000" stroke-width="2.85" fill="none"/>
<path d="M598.1 230.0h10.2M603.2 224.9v10.2" stroke="#000000" stroke-width="2.85" fill="none"/>
<path d="M631.7 221.6h10.2M636.8 216.5v10.2" stroke="#000000" stroke-width="2.85" fill="none"/>
<path d="M633.8 240.5h10.2M638.9 235.4v10.2" stroke="#000000" stroke-width="2.85" fill="none"/>
<path d="M645.4 242.6h10.2M650.5 237.5v10.2" stroke="#000000" stroke-width="2.85" fill="none"/>
<path d="M656.9 197.4h10.2M662.0 192.3v10.2" stroke="#000000" stroke-width="2.85" fill="none"/>
<path d="M628.5 170.1h10.2M633.6 165.0v10.2" stroke="#000000" stroke-width="2.85" fill="none"/>
<path d="M641.1 207.9h10.2M646.2 202.8v10.2" stroke="#000000" stroke-width="2.85" fill="none"/>
<path d="M657.9 171.1h10.2M663.0 166.0v10.2" stroke="#000000" stroke-width="2.85" fill="none"/>
<path d="M564.2 247.4h10.2M569.3 242.3v10.2" stroke="#000000" stroke-width="2.85" fill="none"/>
<path d="M558.4 254.4h10.2M563.5 249.3v10.2" stroke="#000000" stroke-width="2.85" fill="none"/>
<path d="M567.7 254.4h10.2M572.8 249.3v10.2" stroke="#000000" stroke-width="2.85" fill="none"/>
<path d="M559.6 276.6h10.2M564.7 271.5v10.2" stroke="#000000" stroke-width="2.85" fill="none"/>
<path d="M595.8 268.4h10.2M600.9 263.3v10.2" stroke="#000000" stroke-width="2.85" fill="none"/>
<path d="M593.4 273.1h10.2M598.5 268.0v10.2" stroke="#000000" stroke-width="2.85" fill="none"/>
<path d="M609.8 270.8h10.2M614.9 265.7v10.2" stroke="#000000" stroke-width="2.85" fill="none"/>
<path d="M620.3 250.9h10.2M625.4 245.8v10.2" stroke="#000000" stroke-width="2.85" fill="none"/>
<path d="M594.0 254.4h10.2M599.1 249.3v10.2" stroke="#000000" stroke-width="2.85" fill="none"/>
<path d="M600.4 243.9h10.2M605.5 238.8v10.2" stroke="#000000" stroke-width="2.85" fill="none"/>
<path d="M581.8 241.6h10.2M586.9 236.5v10.2" stroke="#000000" stroke-width="2.85" fill="none"/>
<path d="M587.6 240.4h10.2M592.7 235.3v10.2" stroke="#000000" stroke-width="2.85" fill="none"/>
<path d="M580.6 260.3h10.2M585.7 255.2v10.2" stroke="#000000" stroke-width="2.85" fill="none"/>
<path d="M581.8 267.3h10.2M586.9 262.2v10.2" stroke="#000000" stroke-width="2.85" fill="none"/>
<path d="M578.3 275.4h10.2M583.4 270.3v10.2" stroke="#000000" stroke-width="2.85" fill="none"/>
<path d="M582.9 281.3h10.2M588.0 276.2v10.2" stroke="#000000" stroke-width="2.85" fill="none"/>
<path d="M599.3 257.9h10.2M604.4 252.8v10.2" stroke="#000000" stroke-width="2.85" fill="none"/>
<path d="M601.6 281.3h10.2M606.7 276.2v10.2" stroke="#000000" stroke-width="2.85" fill="none"/>
<path d="M595.8 283.6h10.2M600.9 278.5v10.2" stroke="#000000" stroke-width="2.85" fill="none"/>
<path d="M575.9 290.6h10.2M581.0 285.5v10.2" stroke="#000000" stroke-width="2.85" fill="none"/>
<path d="M592.3 294.1h10.2M597.4 289.0v10.2" stroke="#000000" stroke-width="2.85" fill="none"/>
<path d="M593.4 300.0h10.2M598.5 294.9v10.2" stroke="#000000" stroke-width="2.85" fill="none"/>
<path d="M573.6 304.6h10.2M578.7 299.5v10.2" stroke="#000000" stroke-width="2.85" fill="none"/>
<path d="M581.8 310.5h10.2M586.9 305.4v10.2" stroke="#000000" stroke-width="2.85" fill="none"/>
<path d="M589.9 303.5h10.2M595.0 298.4v10.2" stroke="#000000" stroke-width="2.85" fill="none"/>
<path d="M592.3 311.6h10.2M597.4 306.5v10.2" stroke="#000000" stroke-width="2.85" fill="none"/>
<path d="M608.6 301.1h10.2M613.7 296.0v10.2" stroke="#000000" stroke-width="2.85" fill="none"/>
<path d="M615.6 277.8h10.2M620.7 272.7v10.2" stroke="#000000" stroke-width="2.85" fill="none"/>
<path d="M620.3 266.1h10.2M625.4 261.0v10.2" stroke="#000000" stroke-width="2.85" fill="none"/>
<path d="M627.3 260.3h10.2M632.4 255.2v10.2" stroke="#000000" stroke-width="2.85" fill="none"/>
<path d="M629.6 248.6h10.2M634.7 243.5v10.2" stroke="#000000" stroke-width="2.85" fill="none"/>
<path d="M636.4 314.2h10.2M641.5 309.1v10.2" stroke="#000000" stroke-width="2.85" fill="none"/>
<path d="M615.6 240.4h10.2M620.7 235.3v10.2" stroke="#000000" stroke-width="2.85" fill="none"/>
<path d="M574.2 250.3h10.2M579.3 245.2v10.2" stroke="#000000" stroke-width="2.85" fill="none"/>
<path d="M565.4 288.3h10.2M570.5 283.2v10.2" stroke="#000000" stroke-width="2.85" fill="none"/>
<path d="M585.3 289.5h10.2M590.4 284.4v10.2" stroke="#000000" stroke-width="2.85" fill="none"/>
<path d="M587.6 269.6h10.2M592.7 264.5v10.2" stroke="#000000" stroke-width="2.85" fill="none"/>
<path d="M658.7 232.2h10.2M663.8 227.1v10.2" stroke="#000000" stroke-width="2.85" fill="none"/>
<path d="M659.6 240.0h10.2M664.7 234.9v10.2" stroke="#000000" stroke-width="2.85" fill="none"/>
<path d="M648.2 247.0h10.2M653.3 241.9v10.2" stroke="#000000" stroke-width="2.85" fill="none"/>
<path d="M642.5 265.4h10.2M647.6 260.3v10.2" stroke="#000000" stroke-width="2.85" fill="none"/>
<path d="M632.4 257.5h10.2M637.5 252.4v10.2" stroke="#000000" stroke-width="2.85" fill="none"/>
<path d="M635.0 244.4h10.2M640.1 239.3v10.2" stroke="#000000" stroke-width="2.85" fill="none"/>
<path d="M628.9 232.2h10.2M634.0 227.1v10.2" stroke="#000000" stroke-width="2.85" fill="none"/>
<path d="M623.7 241.8h10.2M628.8 236.7v10.2" stroke="#000000" stroke-width="2.85" fill="none"/>
<path d="M623.7 248.8h10.2M628.8 243.7v10.2" stroke="#000000" stroke-width="2.85" fill="none"/>
<path d="M579.4 308.6h10.2M584.5 303.5v10.2" stroke="#000000" stroke-width="2.85" fill="none"/>
<path d="M580.9 312.2h10.2M586.0 307.1v10.2" stroke="#000000" stroke-width="2.85" fill="none"/>
<path d="M589.6 302.7h10.2M594.7 297.6v10.2" stroke="#000000" stroke-width="2.85" fill="none"/>
<path d="M583.0 226.6h10.2M588.1 221.5v10.2" stroke="#000000" stroke-width="2.85" fill="none"/>
<path d="M587.4 234.6h10.2M592.5 229.5v10.2" stroke="#000000" stroke-width="2.85" fill="none"/>
<path d="M592.5 228.1h10.2M597.6 223.0v10.2" stroke="#000000" stroke-width="2.85" fill="none"/>
<path d="M602.0 225.1h10.2M607.1 220.0v10.2" stroke="#000000" stroke-width="2.85" fill="none"/>
<path d="M603.5 231.0h10.2M608.6 225.9v10.2" stroke="#000000" stroke-width="2.85" fill="none"/>
<path d="M578.7 237.6h10.2M583.8 232.5v10.2" stroke="#000000" stroke-width="2.85" fill="none"/>
<path d="M584.5 245.6h10.2M589.6 240.5v10.2" stroke="#000000" stroke-width="2.85" fill="none"/>
<path d="M579.4 252.2h10.2M584.5 247.1v10.2" stroke="#000000" stroke-width="2.85" fill="none"/>
<path d="M585.6 227.7h10.2M590.7 222.6v10.2" stroke="#000000" stroke-width="2.85" fill="none"/>
<path d="M589.6 230.8h10.2M594.7 225.7v10.2" stroke="#000000" stroke-width="2.85" fill="none"/>
<path d="M588.6 244.0h10.2M593.7 238.9v10.2" stroke="#000000" stroke-width="2.85" fill="none"/>
<path d="M577.4 250.2h10.2M582.5 245.1v10.2" stroke="#000000" stroke-width="2.85" fill="none"/>
<path d="M559.0 249.1h10.2M564.1 244.0v10.2" stroke="#000000" stroke-width="2.85" fill="none"/>
<path d="M567.2 249.1h10.2M572.3 244.0v10.2" stroke="#000000" stroke-width="2.85" fill="none"/>
<path d="M609.1 233.8h10.2M614.2 228.7v10.2" stroke="#000000" stroke-width="2.85" fill="none"/>
<path d="M593.7 248.1h10.2M598.8 243.0v10.2" stroke="#000000" stroke-width="2.85" fill="none"/>
<path d="M600.9 251.2h10.2M606.0 246.1v10.2" stroke="#000000" stroke-width="2.85" fill="none"/>
<path d="M597.8 217.5h10.2M602.9 212.4v10.2" stroke="#000000" stroke-width="2.85" fill="none"/>
<path d="M588.1 254.2h10.2M593.2 249.1v10.2" stroke="#000000" stroke-width="2.85" fill="none"/>
<path d="M588.5 259.4h10.2M593.6 254.3v10.2" stroke="#000000" stroke-width="2.85" fill="none"/>
<path d="M589.3 262.8h10.2M594.4 257.7v10.2" stroke="#000000" stroke-width="2.85" fill="none"/>
<path d="M588.2 273.3h10.2M593.3 268.2v10.2" stroke="#000000" stroke-width="2.85" fill="none"/>
<path d="M590.4 279.0h10.2M595.5 273.9v10.2" stroke="#000000" stroke-width="2.85" fill="none"/>
<path d="M594.3 258.1h10.2M599.4 253.0v10.2" stroke="#000000" stroke-width="2.85" fill="none"/>
<path d="M594.3 265.2h10.2M599.4 260.1v10.2" stroke="#000000" stroke-width="2.85" fill="none"/>
<path d="M594.7 279.4h10.2M599.8 274.3v10.2" stroke="#000000" stroke-width="2.85" fill="none"/>
<path d="M598.3 252.7h10.2M603.4 247.6v10.2" stroke="#000000" stroke-width="2.85" fill="none"/>
<path d="M599.6 265.2h10.2M604.7 260.1v10.2" stroke="#000000" stroke-width="2.85" fill="none"/>
<path d="M599.5 270.4h10.2M604.6 265.3v10.2" stroke="#000000" stroke-width="2.85" fill="none"/>
<path d="M598.6 275.0h10.2M603.7 269.9v10.2" stroke="#000000" stroke-width="2.85" fill="none"/>
<path d="M598.7 280.4h10.2M603.8 275.3v10.2" stroke="#000000" stroke-width="2.85" fill="none"/>
<path d="M605.0 252.9h10.2M610.1 247.8v10.2" stroke="#000000" stroke-width="2.85" fill="none"/>
<path d="M602.8 258.3h10.2M607.9 253.2v10.2" stroke="#000000" stroke-width="2.85" fill="none"/>
<path d="M605.3 263.9h10.2M610.4 258.8v10.2" stroke="#000000" stroke-width="2.85" fill="none"/>
<path d="M604.3 268.5h10.2M609.4 263.4v10.2" stroke="#000000" stroke-width="2.85" fill="none"/>
<path d="M603.9 273.8h10.2M609.0 268.7v10.2" stroke="#000000" stroke-width="2.85" fill="none"/>
<path d="M609.2 255.3h10.2M614.3 250.2v10.2" stroke="#000000" stroke-width="2.85" fill="none"/>
<path d="M609.4 260.4h10.2M614.5 255.3v10.2" stroke="#000000" stroke-width="2.85" fill="none"/>
<path d="M610.0 265.6h10.2M615.1 260.5v10.2" stroke="#000000" stroke-width="2.85" fill="none"/>
<path d="M610.0 275.5h10.2M615.1 270.4v10.2" stroke="#000000" stroke-width="2.85" fill="none"/>
<path d="M610.1 279.3h10.2M615.2 274.2v10.2" stroke="#000000" stroke-width="2.85" fill="none"/>
<path d="M578.6 232.9h10.2M583.7 227.8v10.2" stroke="#000000" stroke-width="2.85" fill="none"/>
<path d="M582.9 237.1h10.2M588.0 232.0v10.2" stroke="#000000" stroke-width="2.85" fill="none"/>
<path d="M579.0 241.3h10.2M584.1 236.2v10.2" stroke="#000000" stroke-width="2.85" fill="none"/>
<path d="M583.2 253.9h10.2M588.3 248.8v10.2" stroke="#000000" stroke-width="2.85" fill="none"/>
<path d="M577.5 258.1h10.2M582.6 253.0v10.2" stroke="#000000" stroke-width="2.85" fill="none"/>
<path d="M582.7 270.7h10.2M587.8 265.6v10.2" stroke="#000000" stroke-width="2.85" fill="none"/>
<path d="M578.3 283.3h10.2M583.4 278.2v10.2" stroke="#000000" stroke-width="2.85" fill="none"/>
<path d="M463.4 297.9h10.2M468.5 292.8v10.2" stroke="#000000" stroke-width="2.85" fill="none"/>
<path d="M469.9 296.5h10.2M475.0 291.4v10.2" stroke="#000000" stroke-width="2.85" fill="none"/>
<path d="M483.1 283.4h10.2M488.2 278.3v10.2" stroke="#000000" stroke-width="2.85" fill="none"/>
<path d="M486.0 295.0h10.2M491.1 289.9v10.2" stroke="#000000" stroke-width="2.85" fill="none"/>
<path d="M487.5 300.9h10.2M492.6 295.8v10.2" stroke="#000000" stroke-width="2.85" fill="none"/>
<path d="M484.5 308.2h10.2M489.6 303.1v10.2" stroke="#000000" stroke-width="2.85" fill="none"/>
<path d="M490.4 296.5h10.2M495.5 291.4v10.2" stroke="#000000" stroke-width="2.85" fill="none"/>
<path d="M478.7 303.8h10.2M483.8 298.7v10.2" stroke="#000000" stroke-width="2.85" fill="none"/>
<path d="M468.5 318.4h10.2M473.6 313.3v10.2" stroke="#000000" stroke-width="2.85" fill="none"/>
<path d="M388.6 306.2h10.2M393.7 301.1v10.2" stroke="#000000" stroke-width="2.85" fill="none"/>
<path d="M395.6 309.1h10.2M400.7 304.0v10.2" stroke="#000000" stroke-width="2.85" fill="none"/>
<path d="M402.6 309.1h10.2M407.7 304.0v10.2" stroke="#000000" stroke-width="2.85" fill="none"/>
<path d="M480.9 288.9h10.2M486.0 283.8v10.2" stroke="#000000" stroke-width="2.85" fill="none"/>
<path d="M488.9 288.9h10.2M494.0 283.8v10.2" stroke="#000000" stroke-width="2.85" fill="none"/>
<path d="M492.4 302.9h10.2M497.5 297.8v10.2" stroke="#000000" stroke-width="2.85" fill="none"/>
<path d="M481.4 299.9h10.2M486.5 294.8v10.2" stroke="#000000" stroke-width="2.85" fill="none"/>
<path d="M488.9 308.9h10.2M494.0 303.8v10.2" stroke="#000000" stroke-width="2.85" fill="none"/>
<path d="M478.9 294.9h10.2M484.0 289.8v10.2" stroke="#000000" stroke-width="2.85" fill="none"/>
<path d="M474.9 304.9h10.2M480.0 299.8v10.2" stroke="#000000" stroke-width="2.85" fill="none"/>
<path d="M292.4 233.4h10.2M297.5 228.3v10.2" stroke="#999999" stroke-width="2.85" fill="none"/>
<path d="M297.1 231.6h10.2M302.2 226.5v10.2" stroke="#999999" stroke-width="2.85" fill="none"/>
<path d="M286.0 241.5h10.2M291.1 236.4v10.2" stroke="#999999" stroke-width="2.85" fill="none"/>
<path d="M278.4 251.5h10.2M283.5 246.4v10.2" stroke="#999999" stroke-width="2.85" fill="none"/>
<path d="M320.4 231.6h10.2M325.5 226.5v10.2" stroke="#999999" stroke-width="2.85" fill="none"/>
<path d="M333.3 240.4h10.2M338.4 235.3v10.2" stroke="#999999" stroke-width="2.85" fill="none"/>
<path d="M309.4 245.6h10.2M314.5 240.5v10.2" stroke="#999999" stroke-width="2.85" fill="none"/>
<path d="M315.2 247.4h10.2M320.3 242.3v10.2" stroke="#999999" stroke-width="2.85" fill="none"/>
<rect x="221.8" y="341.6" width="9.6" height="9.4" fill="none" stroke="#ff0000" stroke-width="2.4"/>
<rect x="242.4" y="324.8" width="9.6" height="9.4" fill="none" stroke="#ff0000" stroke-width="2.4"/>
<rect x="258.8" y="301.2" width="9.6" height="9.4" fill="none" stroke="#ff0000" stroke-width="2.4"/>
<rect x="257.6" y="310.2" width="9.6" height="9.4" fill="none" stroke="#ff0000" stroke-width="2.4"/>
<rect x="264.2" y="321.2" width="9.6" height="9.4" fill="none" stroke="#ff0000" stroke-width="2.4"/>
<rect x="262.2" y="325.2" width="9.6" height="9.4" fill="none" stroke="#ff0000" stroke-width="2.4"/>
<rect x="257.2" y="332.2" width="9.6" height="9.4" fill="none" stroke="#ff0000" stroke-width="2.4"/>
<rect x="270.2" y="340.6" width="9.6" height="9.4" fill="none" stroke="#ff0000" stroke-width="2.4"/>
<rect x="281.6" y="335.2" width="9.6" height="9.4" fill="none" stroke="#ff0000" stroke-width="2.4"/>
<rect x="297.6" y="306.5" width="9.6" height="9.4" fill="none" stroke="#ff0000" stroke-width="2.4"/>
<rect x="299.1" y="319.6" width="9.6" height="9.4" fill="none" stroke="#ff0000" stroke-width="2.4"/>
<rect x="310.0" y="308.0" width="9.6" height="9.4" fill="none" stroke="#ff0000" stroke-width="2.4"/>
<rect x="315.1" y="326.2" width="9.6" height="9.4" fill="none" stroke="#ff0000" stroke-width="2.4"/>
<rect x="325.3" y="305.0" width="9.6" height="9.4" fill="none" stroke="#ff0000" stroke-width="2.4"/>
<rect x="330.5" y="318.2" width="9.6" height="9.4" fill="none" stroke="#ff0000" stroke-width="2.4"/>
<rect x="361.1" y="291.2" width="9.6" height="9.4" fill="none" stroke="#ff0000" stroke-width="2.4"/>
<rect x="364.8" y="288.3" width="9.6" height="9.4" fill="none" stroke="#ff0000" stroke-width="2.4"/>
<rect x="379.4" y="283.9" width="9.6" height="9.4" fill="none" stroke="#ff0000" stroke-width="2.4"/>
<rect x="343.6" y="324.0" width="9.6" height="9.4" fill="none" stroke="#ff0000" stroke-width="2.4"/>
<rect x="349.4" y="337.2" width="9.6" height="9.4" fill="none" stroke="#ff0000" stroke-width="2.4"/>
<rect x="364.8" y="332.1" width="9.6" height="9.4" fill="none" stroke="#ff0000" stroke-width="2.4"/>
<rect x="364.0" y="316.7" width="9.6" height="9.4" fill="none" stroke="#ff0000" stroke-width="2.4"/>
<rect x="347.2" y="311.6" width="9.6" height="9.4" fill="none" stroke="#ff0000" stroke-width="2.4"/>
<rect x="381.6" y="325.5" width="9.6" height="9.4" fill="none" stroke="#ff0000" stroke-width="2.4"/>
<rect x="386.3" y="312.3" width="9.6" height="9.4" fill="none" stroke="#ff0000" stroke-width="2.4"/>
<rect x="432.9" y="286.1" width="9.6" height="9.4" fill="none" stroke="#ff0000" stroke-width="2.4"/>
<rect x="446.0" y="280.2" width="9.6" height="9.4" fill="none" stroke="#ff0000" stroke-width="2.4"/>
<rect x="452.6" y="291.2" width="9.6" height="9.4" fill="none" stroke="#ff0000" stroke-width="2.4"/>
<rect x="404.4" y="304.3" width="9.6" height="9.4" fill="none" stroke="#ff0000" stroke-width="2.4"/>
<rect x="390.3" y="316.7" width="9.6" height="9.4" fill="none" stroke="#ff0000" stroke-width="2.4"/>
<rect x="552.0" y="207.5" width="9.6" height="9.4" fill="none" stroke="#ff0000" stroke-width="2.4"/>
<rect x="614.6" y="160.6" width="9.6" height="9.4" fill="none" stroke="#ff0000" stroke-width="2.4"/>
<rect x="629.7" y="165.8" width="9.6" height="9.4" fill="none" stroke="#ff0000" stroke-width="2.4"/>
<rect x="623.2" y="175.0" width="9.6" height="9.4" fill="none" stroke="#ff0000" stroke-width="2.4"/>
<rect x="654.7" y="154.7" width="9.6" height="9.4" fill="none" stroke="#ff0000" stroke-width="2.4"/>
<rect x="660.6" y="176.4" width="9.6" height="9.4" fill="none" stroke="#ff0000" stroke-width="2.4"/>
<rect x="638.4" y="90.5" width="9.6" height="9.4" fill="none" stroke="#ff0000" stroke-width="2.4"/>
<rect x="650.2" y="122.5" width="9.6" height="9.4" fill="none" stroke="#ff0000" stroke-width="2.4"/>
<rect x="608.3" y="210.5" width="9.6" height="9.4" fill="none" stroke="#ff0000" stroke-width="2.4"/>
<rect x="643.0" y="226.3" width="9.6" height="9.4" fill="none" stroke="#ff0000" stroke-width="2.4"/>
<rect x="617.1" y="241.5" width="9.6" height="9.4" fill="none" stroke="#ff0000" stroke-width="2.4"/>
<rect x="618.3" y="252.1" width="9.6" height="9.4" fill="none" stroke="#ff0000" stroke-width="2.4"/>
<rect x="612.4" y="289.4" width="9.6" height="9.4" fill="none" stroke="#ff0000" stroke-width="2.4"/>
<rect x="633.0" y="270.0" width="9.6" height="9.4" fill="none" stroke="#ff0000" stroke-width="2.4"/>
<rect x="598.4" y="297.6" width="9.6" height="9.4" fill="none" stroke="#ff0000" stroke-width="2.4"/>
<rect x="581.2" y="326.5" width="9.6" height="9.4" fill="none" stroke="#ff0000" stroke-width="2.4"/>
<rect x="598.9" y="236.5" width="9.6" height="9.4" fill="none" stroke="#ff0000" stroke-width="2.4"/>
<rect x="618.6" y="220.9" width="9.6" height="9.4" fill="none" stroke="#ff0000" stroke-width="2.4"/>
<rect x="582.9" y="262.1" width="9.6" height="9.4" fill="none" stroke="#ff0000" stroke-width="2.4"/>
<rect x="581.5" y="277.0" width="9.6" height="9.4" fill="none" stroke="#ff0000" stroke-width="2.4"/>
<rect x="564.2" y="267.7" width="9.6" height="9.4" fill="none" stroke="#ff0000" stroke-width="2.4"/>
<rect x="617.0" y="263.7" width="9.6" height="9.4" fill="none" stroke="#ff0000" stroke-width="2.4"/>
<rect x="393.2" y="292.2" width="9.6" height="9.4" fill="none" stroke="#ff0000" stroke-width="2.4"/>
<rect x="356.2" y="295.5" width="9.6" height="9.4" fill="none" stroke="#ff0000" stroke-width="2.4"/>
<rect x="364.0" y="294.2" width="9.6" height="9.4" fill="none" stroke="#ff0000" stroke-width="2.4"/>
<path d="M152.6 294.0L157.2 298.3L152.6 302.6L148.0 298.3Z" fill="none" stroke="#808000" stroke-width="2.6"/>
<path d="M185.6 315.0L190.2 319.3L185.6 323.6L181.0 319.3Z" fill="none" stroke="#808000" stroke-width="2.6"/></g>
<rect x="119.7" y="3.3" width="549.8" height="421.2" fill="none" stroke="#000" stroke-width="2.7"/>
<path d="M130.70 424.50v-4.2 M130.70 3.30v4.2 M141.69 424.50v-4.2 M141.69 3.30v4.2 M152.69 424.50v-4.2 M152.69 3.30v4.2 M163.68 424.50v-4.2 M163.68 3.30v4.2 M174.68 424.50v-4.2 M174.68 3.30v4.2 M185.68 424.50v-4.2 M185.68 3.30v4.2 M196.67 424.50v-4.2 M196.67 3.30v4.2 M207.67 424.50v-4.2 M207.67 3.30v4.2 M218.66 424.50v-4.2 M218.66 3.30v4.2 M229.66 424.50v-8.4 M229.66 3.30v8.4 M240.66 424.50v-4.2 M240.66 3.30v4.2 M251.65 424.50v-4.2 M251.65 3.30v4.2 M262.65 424.50v-4.2 M262.65 3.30v4.2 M273.64 424.50v-4.2 M273.64 3.30v4.2 M284.64 424.50v-4.2 M284.64 3.30v4.2 M295.64 424.50v-4.2 M295.64 3.30v4.2 M306.63 424.50v-4.2 M306.63 3.30v4.2 M317.63 424.50v-4.2 M317.63 3.30v4.2 M328.62 424.50v-4.2 M328.62 3.30v4.2 M339.62 424.50v-8.4 M339.62 3.30v8.4 M350.62 424.50v-4.2 M350.62 3.30v4.2 M361.61 424.50v-4.2 M361.61 3.30v4.2 M372.61 424.50v-4.2 M372.61 3.30v4.2 M383.60 424.50v-4.2 M383.60 3.30v4.2 M394.60 424.50v-4.2 M394.60 3.30v4.2 M405.60 424.50v-4.2 M405.60 3.30v4.2 M416.59 424.50v-4.2 M416.59 3.30v4.2 M427.59 424.50v-4.2 M427.59 3.30v4.2 M438.58 424.50v-4.2 M438.58 3.30v4.2 M449.58 424.50v-8.4 M449.58 3.30v8.4 M460.58 424.50v-4.2 M460.58 3.30v4.2 M471.57 424.50v-4.2 M471.57 3.30v4.2 M482.57 424.50v-4.2 M482.57 3.30v4.2 M493.56 424.50v-4.2 M493.56 3.30v4.2 M504.56 424.50v-4.2 M504.56 3.30v4.2 M515.56 424.50v-4.2 M515.56 3.30v4.2 M526.55 424.50v-4.2 M526.55 3.30v4.2 M537.55 424.50v-4.2 M537.55 3.30v4.2 M548.54 424.50v-4.2 M548.54 3.30v4.2 M559.54 424.50v-8.4 M559.54 3.30v8.4 M570.54 424.50v-4.2 M570.54 3.30v4.2 M581.53 424.50v-4.2 M581.53 3.30v4.2 M592.53 424.50v-4.2 M592.53 3.30v4.2 M603.52 424.50v-4.2 M603.52 3.30v4.2 M614.52 424.50v-4.2 M614.52 3.30v4.2 M625.52 424.50v-4.2 M625.52 3.30v4.2 M636.51 424.50v-4.2 M636.51 3.30v4.2 M647.51 424.50v-4.2 M647.51 3.30v4.2 M658.50 424.50v-4.2 M658.50 3.30v4.2 M119.70 403.44h5.5 M669.50 403.44h-5.5 M119.70 382.38h5.5 M669.50 382.38h-5.5 M119.70 361.32h5.5 M669.50 361.32h-5.5 M119.70 340.26h11 M669.50 340.26h-11 M119.70 319.20h5.5 M669.50 319.20h-5.5 M119.70 298.14h5.5 M669.50 298.14h-5.5 M119.70 277.08h5.5 M669.50 277.08h-5.5 M119.70 256.02h11 M669.50 256.02h-11 M119.70 234.96h5.5 M669.50 234.96h-5.5 M119.70 213.90h5.5 M669.50 213.90h-5.5 M119.70 192.84h5.5 M669.50 192.84h-5.5 M119.70 171.78h11 M669.50 171.78h-11 M119.70 150.72h5.5 M669.50 150.72h-5.5 M119.70 129.66h5.5 M669.50 129.66h-5.5 M119.70 108.60h5.5 M669.50 108.60h-5.5 M119.70 87.54h11 M669.50 87.54h-11 M119.70 66.48h5.5 M669.50 66.48h-5.5 M119.70 45.42h5.5 M669.50 45.42h-5.5 M119.70 24.36h5.5 M669.50 24.36h-5.5" stroke="#000" stroke-width="2.5" fill="none"/>
<text x="119.70" y="459.60" text-anchor="middle" font-size="28.5" font-family="Liberation Sans, sans-serif" font-weight="bold">40</text>
<text x="229.66" y="459.60" text-anchor="middle" font-size="28.5" font-family="Liberation Sans, sans-serif" font-weight="bold">50</text>
<text x="339.62" y="459.60" text-anchor="middle" font-size="28.5" font-family="Liberation Sans, sans-serif" font-weight="bold">60</text>
<text x="449.58" y="459.60" text-anchor="middle" font-size="28.5" font-family="Liberation Sans, sans-serif" font-weight="bold">70</text>
<text x="559.54" y="459.60" text-anchor="middle" font-size="28.5" font-family="Liberation Sans, sans-serif" font-weight="bold">80</text>
<text x="669.50" y="459.60" text-anchor="middle" font-size="28.5" font-family="Liberation Sans, sans-serif" font-weight="bold">90</text>
<text x="112.6" y="424.20" text-anchor="end" font-size="28.5" font-family="Liberation Sans, sans-serif" font-weight="bold">100</text>
<text x="112.6" y="350.26" text-anchor="end" font-size="28.5" font-family="Liberation Sans, sans-serif" font-weight="bold">120</text>
<text x="112.6" y="266.02" text-anchor="end" font-size="28.5" font-family="Liberation Sans, sans-serif" font-weight="bold">140</text>
<text x="112.6" y="181.78" text-anchor="end" font-size="28.5" font-family="Liberation Sans, sans-serif" font-weight="bold">160</text>
<text x="112.6" y="97.54" text-anchor="end" font-size="28.5" font-family="Liberation Sans, sans-serif" font-weight="bold">180</text>
<text x="112.6" y="19.80" text-anchor="end" font-size="28.5" font-family="Liberation Sans, sans-serif" font-weight="bold">200</text>
<text x="395" y="489.90" text-anchor="middle" font-size="28.5" font-family="Liberation Sans, sans-serif" font-weight="bold">SZA (degrees)</text>
<text transform="translate(20.6 213.00) rotate(-90)" text-anchor="middle" font-size="28.2" font-family="Liberation Sans, sans-serif" font-weight="bold">Altitude of peak</text>
<text transform="translate(43.3 213.00) rotate(-90)" text-anchor="middle" font-size="28.2" font-family="Liberation Sans, sans-serif" font-weight="bold">electron density (km)</text>
<polyline points="119.70,329.03 120.80,328.97 121.90,328.91 123.00,328.85 124.10,328.79 125.20,328.72 126.30,328.66 127.40,328.60 128.50,328.53 129.60,328.47 130.70,328.41 131.80,328.34 132.90,328.28 133.99,328.21 135.09,328.15 136.19,328.08 137.29,328.02 138.39,327.95 139.49,327.89 140.59,327.82 141.69,327.76 142.79,327.69 143.89,327.62 144.99,327.56 146.09,327.49 147.19,327.42 148.29,327.35 149.39,327.29 150.49,327.22 151.59,327.15 152.69,327.08 153.79,327.01 154.89,326.94 155.99,326.88 157.09,326.81 158.19,326.74 159.29,326.67 160.39,326.60 161.48,326.53 162.58,326.46 163.68,326.38 164.78,326.31 165.88,326.24 166.98,326.17 168.08,326.10 169.18,326.03 170.28,325.95 171.38,325.88 172.48,325.81 173.58,325.74 174.68,325.66 175.78,325.59 176.88,325.51 177.98,325.44 179.08,325.37 180.18,325.29 181.28,325.22 182.38,325.14 183.48,325.07 184.58,324.99 185.68,324.91 186.78,324.84 187.88,324.76 188.97,324.68 190.07,324.61 191.17,324.53 192.27,324.45 193.37,324.37 194.47,324.30 195.57,324.22 196.67,324.14 197.77,324.06 198.87,323.98 199.97,323.90 201.07,323.82 202.17,323.74 203.27,323.66 204.37,323.58 205.47,323.50 206.57,323.42 207.67,323.34 208.77,323.26 209.87,323.17 210.97,323.09 212.07,323.01 213.17,322.93 214.27,322.84 215.37,322.76 216.46,322.67 217.56,322.59 218.66,322.51 219.76,322.42 220.86,322.34 221.96,322.25 223.06,322.17 224.16,322.08 225.26,321.99 226.36,321.91 227.46,321.82 228.56,321.73 229.66,321.65 230.76,321.56 231.86,321.47 232.96,321.38 234.06,321.29 235.16,321.20 236.26,321.11 237.36,321.02 238.46,320.93 239.56,320.84 240.66,320.75 241.76,320.66 242.86,320.57 243.95,320.48 245.05,320.39 246.15,320.30 247.25,320.20 248.35,320.11 249.45,320.02 250.55,319.92 251.65,319.83 252.75,319.74 253.85,319.64 254.95,319.55 256.05,319.45 257.15,319.35 258.25,319.26 259.35,319.16 260.45,319.07 261.55,318.97 262.65,318.87 263.75,318.77 264.85,318.68 265.95,318.58 267.05,318.48 268.15,318.38 269.25,318.28 270.35,318.18 271.44,318.08 272.54,317.98 273.64,317.88 274.74,317.78 275.84,317.67 276.94,317.57 278.04,317.47 279.14,317.37 280.24,317.26 281.34,317.16 282.44,317.06 283.54,316.95 284.64,316.85 285.74,316.74 286.84,316.64 287.94,316.53 289.04,316.42 290.14,316.32 291.24,316.21 292.34,316.10 293.44,315.99 294.54,315.89 295.64,315.78 296.74,315.67 297.84,315.56 298.93,315.45 300.03,315.34 301.13,315.23 302.23,315.12 303.33,315.00 304.43,314.89 305.53,314.78 306.63,314.67 307.73,314.55 308.83,314.44 309.93,314.32 311.03,314.21 312.13,314.10 313.23,313.98 314.33,313.86 315.43,313.75 316.53,313.63 317.63,313.51 318.73,313.39 319.83,313.28 320.93,313.16 322.03,313.04 323.13,312.92 324.23,312.80 325.33,312.68 326.42,312.56 327.52,312.43 328.62,312.31 329.72,312.19 330.82,312.07 331.92,311.94 333.02,311.82 334.12,311.69 335.22,311.57 336.32,311.44 337.42,311.32 338.52,311.19 339.62,311.06 340.72,310.94 341.82,310.81 342.92,310.68 344.02,310.55 345.12,310.42 346.22,310.29 347.32,310.16 348.42,310.03 349.52,309.90 350.62,309.77 351.72,309.63 352.82,309.50 353.91,309.36 355.01,309.23 356.11,309.10 357.21,308.96 358.31,308.82 359.41,308.69 360.51,308.55 361.61,308.41 362.71,308.27 363.81,308.13 364.91,307.99 366.01,307.85 367.11,307.71 368.21,307.57 369.31,307.43 370.41,307.29 371.51,307.14 372.61,307.00 373.71,306.85 374.81,306.71 375.91,306.56 377.01,306.42 378.11,306.27 379.21,306.12 380.31,305.97 381.40,305.82 382.50,305.67 383.60,305.52 384.70,305.37 385.80,305.22 386.90,305.07 388.00,304.92 389.10,304.76 390.20,304.61 391.30,304.45 392.40,304.30 393.50,304.14 394.60,303.98 395.70,303.82 396.80,303.67 397.90,303.51 399.00,303.35 400.10,303.19 401.20,303.02 402.30,302.86 403.40,302.70 404.50,302.53 405.60,302.37 406.70,302.20 407.80,302.04 408.89,301.87 409.99,301.70 411.09,301.53 412.19,301.36 413.29,301.19 414.39,301.02 415.49,300.85 416.59,300.68 417.69,300.50 418.79,300.33 419.89,300.15 420.99,299.98 422.09,299.80 423.19,299.62 424.29,299.45 425.39,299.27 426.49,299.08 427.59,298.90 428.69,298.72 429.79,298.54 430.89,298.35 431.99,298.17 433.09,297.98 434.19,297.79 435.29,297.61 436.38,297.42 437.48,297.23 438.58,297.04 439.68,296.84 440.78,296.65 441.88,296.46 442.98,296.26 444.08,296.07 445.18,295.87 446.28,295.67 447.38,295.47 448.48,295.27 449.58,295.07 450.68,294.87 451.78,294.66 452.88,294.46 453.98,294.25 455.08,294.05 456.18,293.84 457.28,293.63 458.38,293.42 459.48,293.21 460.58,292.99 461.68,292.78 462.78,292.56 463.87,292.35 464.97,292.13 466.07,291.91 467.17,291.69 468.27,291.47 469.37,291.25 470.47,291.02 471.57,290.80 472.67,290.57 473.77,290.34 474.87,290.11 475.97,289.88 477.07,289.65 478.17,289.41 479.27,289.18 480.37,288.94 481.47,288.70 482.57,288.46 483.67,288.22 484.77,287.98 485.87,287.74 486.97,287.49 488.07,287.24 489.17,286.99 490.27,286.74 491.36,286.49 492.46,286.24 493.56,285.98 494.66,285.72 495.76,285.47 496.86,285.20 497.96,284.94 499.06,284.68 500.16,284.41 501.26,284.14 502.36,283.87 503.46,283.60 504.56,283.33 505.66,283.05 506.76,282.78 507.86,282.50 508.96,282.22 510.06,281.93 511.16,281.65 512.26,281.36 513.36,281.07 514.46,280.78 515.56,280.49 516.66,280.19 517.76,279.89 518.85,279.59 519.95,279.29 521.05,278.98 522.15,278.68 523.25,278.37 524.35,278.05 525.45,277.74 526.55,277.42 527.65,277.10 528.75,276.78 529.85,276.46 530.95,276.13 532.05,275.80 533.15,275.46 534.25,275.13 535.35,274.79 536.45,274.45 537.55,274.10 538.65,273.76 539.75,273.41 540.85,273.05 541.95,272.70 543.05,272.34 544.15,271.97 545.25,271.61 546.34,271.24 547.44,270.87 548.54,270.49 549.64,270.11 550.74,269.73 551.84,269.34 552.94,268.95 554.04,268.55 555.14,268.15 556.24,267.75 557.34,267.34 558.44,266.93 559.54,266.52 560.64,266.10 561.74,265.68 562.84,265.25 563.94,264.82 565.04,264.38 566.14,263.94 567.24,263.49 568.34,263.04 569.44,262.58 570.54,262.12 571.64,261.66 572.74,261.18 573.83,260.71 574.93,260.22 576.03,259.73 577.13,259.24 578.23,258.74 579.33,258.23 580.43,257.72 581.53,257.20 582.63,256.67 583.73,256.14 584.83,255.60 585.93,255.05 587.03,254.50 588.13,253.93 589.23,253.36 590.33,252.79 591.43,252.20 592.53,251.61 593.63,251.00 594.73,250.39 595.83,249.77 596.93,249.14 598.03,248.50 599.13,247.85 600.23,247.19 601.32,246.52 602.42,245.83 603.52,245.14 604.62,244.44 605.72,243.72 606.82,242.99 607.92,242.24 609.02,241.49 610.12,240.72 611.22,239.93 612.32,239.13 613.42,238.32 614.52,237.48 615.62,236.64 616.72,235.77 617.82,234.88 618.92,233.98 620.02,233.06 621.12,232.11 622.22,231.15 623.32,230.16 624.42,229.14 625.52,228.11 626.62,227.04 627.72,225.95 628.81,224.83 629.91,223.67 631.01,222.49 632.11,221.27 633.21,220.01 634.31,218.72 635.41,217.38 636.51,216.00 637.61,214.58 638.71,213.10 639.81,211.57 640.91,209.98 642.01,208.33 643.11,206.61 644.21,204.82 645.31,202.95 646.41,200.99 647.51,198.94 648.61,196.78 649.71,194.50 650.81,192.09 651.91,189.54 653.01,186.82 654.11,183.92 655.21,180.80 656.30,177.42 657.40,173.76 658.50,169.75" fill="none" stroke="#00ffff" stroke-width="2.6"/>
<polyline points="119.70,292.53 120.80,292.50 121.90,292.47 123.00,292.43 124.10,292.40 125.20,292.37 126.30,292.34 127.40,292.31 128.50,292.28 129.60,292.25 130.70,292.21 131.80,292.18 132.90,292.15 133.99,292.12 135.09,292.08 136.19,292.05 137.29,292.02 138.39,291.99 139.49,291.95 140.59,291.92 141.69,291.89 142.79,291.85 143.89,291.82 144.99,291.79 146.09,291.75 147.19,291.72 148.29,291.69 149.39,291.65 150.49,291.62 151.59,291.59 152.69,291.55 153.79,291.52 154.89,291.48 155.99,291.45 157.09,291.41 158.19,291.38 159.29,291.34 160.39,291.31 161.48,291.27 162.58,291.24 163.68,291.20 164.78,291.17 165.88,291.13 166.98,291.10 168.08,291.06 169.18,291.02 170.28,290.99 171.38,290.95 172.48,290.91 173.58,290.88 174.68,290.84 175.78,290.80 176.88,290.77 177.98,290.73 179.08,290.69 180.18,290.66 181.28,290.62 182.38,290.58 183.48,290.54 184.58,290.51 185.68,290.47 186.78,290.43 187.88,290.39 188.97,290.35 190.07,290.31 191.17,290.28 192.27,290.24 193.37,290.20 194.47,290.16 195.57,290.12 196.67,290.08 197.77,290.04 198.87,290.00 199.97,289.96 201.07,289.92 202.17,289.88 203.27,289.84 204.37,289.80 205.47,289.76 206.57,289.72 207.67,289.68 208.77,289.64 209.87,289.60 210.97,289.56 212.07,289.51 213.17,289.47 214.27,289.43 215.37,289.39 216.46,289.35 217.56,289.31 218.66,289.26 219.76,289.22 220.86,289.18 221.96,289.14 223.06,289.09 224.16,289.05 225.26,289.01 226.36,288.96 227.46,288.92 228.56,288.88 229.66,288.83 230.76,288.79 231.86,288.74 232.96,288.70 234.06,288.66 235.16,288.61 236.26,288.57 237.36,288.52 238.46,288.48 239.56,288.43 240.66,288.39 241.76,288.34 242.86,288.30 243.95,288.25 245.05,288.20 246.15,288.16 247.25,288.11 248.35,288.07 249.45,288.02 250.55,287.97 251.65,287.92 252.75,287.88 253.85,287.83 254.95,287.78 256.05,287.74 257.15,287.69 258.25,287.64 259.35,287.59 260.45,287.54 261.55,287.49 262.65,287.45 263.75,287.40 264.85,287.35 265.95,287.30 267.05,287.25 268.15,287.20 269.25,287.15 270.35,287.10 271.44,287.05 272.54,287.00 273.64,286.95 274.74,286.90 275.84,286.85 276.94,286.80 278.04,286.74 279.14,286.69 280.24,286.64 281.34,286.59 282.44,286.54 283.54,286.49 284.64,286.43 285.74,286.38 286.84,286.33 287.94,286.28 289.04,286.22 290.14,286.17 291.24,286.11 292.34,286.06 293.44,286.01 294.54,285.95 295.64,285.90 296.74,285.84 297.84,285.79 298.93,285.73 300.03,285.68 301.13,285.62 302.23,285.57 303.33,285.51 304.43,285.46 305.53,285.40 306.63,285.34 307.73,285.29 308.83,285.23 309.93,285.17 311.03,285.12 312.13,285.06 313.23,285.00 314.33,284.94 315.43,284.88 316.53,284.82 317.63,284.77 318.73,284.71 319.83,284.65 320.93,284.59 322.03,284.53 323.13,284.47 324.23,284.41 325.33,284.35 326.42,284.29 327.52,284.23 328.62,284.17 329.72,284.11 330.82,284.04 331.92,283.98 333.02,283.92 334.12,283.86 335.22,283.79 336.32,283.73 337.42,283.67 338.52,283.61 339.62,283.54 340.72,283.48 341.82,283.41 342.92,283.35 344.02,283.29 345.12,283.22 346.22,283.16 347.32,283.09 348.42,283.02 349.52,282.96 350.62,282.89 351.72,282.83 352.82,282.76 353.91,282.69 355.01,282.63 356.11,282.56 357.21,282.49 358.31,282.42 359.41,282.35 360.51,282.28 361.61,282.22 362.71,282.15 363.81,282.08 364.91,282.01 366.01,281.94 367.11,281.87 368.21,281.80 369.31,281.72 370.41,281.65 371.51,281.58 372.61,281.51 373.71,281.44 374.81,281.36 375.91,281.29 377.01,281.22 378.11,281.14 379.21,281.07 380.31,281.00 381.40,280.92 382.50,280.85 383.60,280.77 384.70,280.70 385.80,280.62 386.90,280.54 388.00,280.47 389.10,280.39 390.20,280.31 391.30,280.24 392.40,280.16 393.50,280.08 394.60,280.00 395.70,279.92 396.80,279.84 397.90,279.76 399.00,279.68 400.10,279.60 401.20,279.52 402.30,279.44 403.40,279.36 404.50,279.28 405.60,279.19 406.70,279.11 407.80,279.03 408.89,278.95 409.99,278.86 411.09,278.78 412.19,278.69 413.29,278.61 414.39,278.52 415.49,278.44 416.59,278.35 417.69,278.26 418.79,278.18 419.89,278.09 420.99,278.00 422.09,277.91 423.19,277.82 424.29,277.73 425.39,277.64 426.49,277.55 427.59,277.46 428.69,277.37 429.79,277.28 430.89,277.19 431.99,277.09 433.09,277.00 434.19,276.91 435.29,276.81 436.38,276.72 437.48,276.62 438.58,276.53 439.68,276.43 440.78,276.34 441.88,276.24 442.98,276.14 444.08,276.04 445.18,275.94 446.28,275.85 447.38,275.75 448.48,275.65 449.58,275.55 450.68,275.44 451.78,275.34 452.88,275.24 453.98,275.14 455.08,275.03 456.18,274.93 457.28,274.82 458.38,274.72 459.48,274.61 460.58,274.51 461.68,274.40 462.78,274.29 463.87,274.18 464.97,274.07 466.07,273.97 467.17,273.86 468.27,273.74 469.37,273.63 470.47,273.52 471.57,273.41 472.67,273.29 473.77,273.18 474.87,273.07 475.97,272.95 477.07,272.83 478.17,272.72 479.27,272.60 480.37,272.48 481.47,272.36 482.57,272.24 483.67,272.12 484.77,272.00 485.87,271.88 486.97,271.75 488.07,271.63 489.17,271.51 490.27,271.38 491.36,271.26 492.46,271.13 493.56,271.00 494.66,270.87 495.76,270.74 496.86,270.61 497.96,270.48 499.06,270.35 500.16,270.22 501.26,270.08 502.36,269.95 503.46,269.81 504.56,269.67 505.66,269.54 506.76,269.40 507.86,269.26 508.96,269.12 510.06,268.98 511.16,268.83 512.26,268.69 513.36,268.55 514.46,268.40 515.56,268.25 516.66,268.10 517.76,267.96 518.85,267.81 519.95,267.65 521.05,267.50 522.15,267.35 523.25,267.19 524.35,267.04 525.45,266.88 526.55,266.72 527.65,266.56 528.75,266.40 529.85,266.24 530.95,266.07 532.05,265.91 533.15,265.74 534.25,265.57 535.35,265.41 536.45,265.23 537.55,265.06 538.65,264.89 539.75,264.71 540.85,264.54 541.95,264.36 543.05,264.18 544.15,264.00 545.25,263.81 546.34,263.63 547.44,263.44 548.54,263.25 549.64,263.06 550.74,262.87 551.84,262.68 552.94,262.48 554.04,262.29 555.14,262.09 556.24,261.89 557.34,261.68 558.44,261.48 559.54,261.27 560.64,261.06 561.74,260.85 562.84,260.63 563.94,260.42 565.04,260.20 566.14,259.98 567.24,259.76 568.34,259.53 569.44,259.30 570.54,259.07 571.64,258.84 572.74,258.60 573.83,258.36 574.93,258.12 576.03,257.88 577.13,257.63 578.23,257.38 579.33,257.13 580.43,256.87 581.53,256.61 582.63,256.35 583.73,256.08 584.83,255.81 585.93,255.54 587.03,255.26 588.13,254.98 589.23,254.69 590.33,254.40 591.43,254.11 592.53,253.81 593.63,253.51 594.73,253.21 595.83,252.89 596.93,252.58 598.03,252.26 599.13,251.93 600.23,251.60 601.32,251.27 602.42,250.93 603.52,250.58 604.62,250.23 605.72,249.87 606.82,249.50 607.92,249.13 609.02,248.75 610.12,248.37 611.22,247.98 612.32,247.58 613.42,247.17 614.52,246.75 615.62,246.33 616.72,245.89 617.82,245.45 618.92,245.00 620.02,244.54 621.12,244.07 622.22,243.58 623.32,243.09 624.42,242.58 625.52,242.06 626.62,241.53 627.72,240.98 628.81,240.42 629.91,239.85 631.01,239.25 632.11,238.64 633.21,238.02 634.31,237.37 635.41,236.70 636.51,236.01 637.61,235.30 638.71,234.56 639.81,233.79 640.91,233.00 642.01,232.17 643.11,231.32 644.21,230.42 645.31,229.48 646.41,228.50 647.51,227.48 648.61,226.40 649.71,225.26 650.81,224.06 651.91,222.78 653.01,221.42 654.11,219.97 655.21,218.41 656.30,216.72 657.40,214.89 658.50,212.88" fill="none" stroke="#ff00ff" stroke-width="2.6"/>
<path d="M146.2 30.5L159.8 30.5L154.0 18.4L152.0 18.4ZM150.3 27.6L155.7 27.6L153.0 21.8Z" fill="#0000ff" fill-rule="evenodd"/>
<rect x="148.0" y="40.8" width="9.6" height="9.4" fill="none" stroke="#ff0000" stroke-width="2.4"/>
<path d="M147.7 66.6h10.2M152.8 61.5v10.2" stroke="#000000" stroke-width="2.85" fill="none"/>
<path d="M147.7 87.7h10.2M152.8 82.6v10.2" stroke="#999999" stroke-width="2.85" fill="none"/>
<path d="M152.8 104.4L157.4 108.7L152.8 113.0L148.2 108.7Z" fill="none" stroke="#808000" stroke-width="2.6"/>
<path d="M141.4 129.8H164" stroke="#00ffff" stroke-width="3"/>
<path d="M141.4 150.9H164" stroke="#ff00ff" stroke-width="3"/>
<path d="M141.4 171.9H164" stroke="#00ff00" stroke-width="3"/>
<text x="175.4" y="32.8" font-size="19" font-family="Liberation Sans, sans-serif" font-weight="bold">Mariner 9</text>
<text x="175.4" y="53.8" font-size="19" textLength="123.70" lengthAdjust="spacing" font-family="Liberation Sans, sans-serif" font-weight="bold">Viking Orbiter</text>
<text x="175.4" y="74.9" font-size="19" textLength="190.77" lengthAdjust="spacing" font-family="Liberation Sans, sans-serif" font-weight="bold">MAVEN ROSE (other)</text>
<text x="175.4" y="96.0" font-size="19" font-family="Liberation Sans, sans-serif" font-weight="bold"><tspan letter-spacing="-0.07">MAVEN ROSE (SZA&lt;60</tspan><tspan dy="-7" font-size="13" font-weight="normal">o</tspan><tspan dy="7" letter-spacing="-0.07"> and zmax&gt;140 km)</tspan></text>
<text x="175.4" y="117.0" font-size="19" textLength="123.70" lengthAdjust="spacing" font-family="Liberation Sans, sans-serif" font-weight="bold">Viking Lander</text>
<text x="175.4" y="138.1" font-size="19" textLength="204.36" lengthAdjust="spacing" font-family="Liberation Sans, sans-serif" font-weight="bold">Zo = 120 km, L = 10 km</text>
<text x="175.4" y="159.2" font-size="19" textLength="194.29" lengthAdjust="spacing" font-family="Liberation Sans, sans-serif" font-weight="bold">Zo = 130 km, L = 5 km</text>
<text x="175.4" y="180.2" font-size="19" textLength="204.36" lengthAdjust="spacing" font-family="Liberation Sans, sans-serif" font-weight="bold">Zo = 130 km, L = 10 km</text>
<g clip-path="url(#c2)"><path d="M329.4 833.6h10.2M334.5 828.5v10.2" stroke="#000000" stroke-width="2.85" fill="none"/>
<path d="M349.9 839.0h10.2M355.0 833.9v10.2" stroke="#000000" stroke-width="2.85" fill="none"/>
<path d="M304.6 851.6h10.2M309.7 846.5v10.2" stroke="#000000" stroke-width="2.85" fill="none"/>
<path d="M312.6 846.8h10.2M317.7 841.7v10.2" stroke="#000000" stroke-width="2.85" fill="none"/>
<path d="M314.8 849.0h10.2M319.9 843.9v10.2" stroke="#000000" stroke-width="2.85" fill="none"/>
<path d="M317.7 850.4h10.2M322.8 845.3v10.2" stroke="#000000" stroke-width="2.85" fill="none"/>
<path d="M324.3 853.4h10.2M329.4 848.3v10.2" stroke="#000000" stroke-width="2.85" fill="none"/>
<path d="M338.2 851.9h10.2M343.3 846.8v10.2" stroke="#000000" stroke-width="2.85" fill="none"/>
<path d="M352.1 843.9h10.2M357.2 838.8v10.2" stroke="#000000" stroke-width="2.85" fill="none"/>
<path d="M351.3 857.0h10.2M356.4 851.9v10.2" stroke="#000000" stroke-width="2.85" fill="none"/>
<path d="M366.7 856.3h10.2M371.8 851.2v10.2" stroke="#000000" stroke-width="2.85" fill="none"/>
<path d="M381.3 853.4h10.2M386.4 848.3v10.2" stroke="#000000" stroke-width="2.85" fill="none"/>
<path d="M383.4 831.5h10.2M388.5 826.4v10.2" stroke="#000000" stroke-width="2.85" fill="none"/>
<path d="M362.3 873.8h10.2M367.4 868.7v10.2" stroke="#000000" stroke-width="2.85" fill="none"/>
<path d="M346.2 869.4h10.2M351.3 864.3v10.2" stroke="#000000" stroke-width="2.85" fill="none"/>
<path d="M350.6 869.4h10.2M355.7 864.3v10.2" stroke="#000000" stroke-width="2.85" fill="none"/>
<path d="M401.2 838.8h10.2M406.3 833.7v10.2" stroke="#000000" stroke-width="2.85" fill="none"/>
<path d="M393.9 844.6h10.2M399.0 839.5v10.2" stroke="#000000" stroke-width="2.85" fill="none"/>
<path d="M405.6 844.6h10.2M410.7 839.5v10.2" stroke="#000000" stroke-width="2.85" fill="none"/>
<path d="M408.5 848.2h10.2M413.6 843.1v10.2" stroke="#000000" stroke-width="2.85" fill="none"/>
<path d="M383.7 853.4h10.2M388.8 848.3v10.2" stroke="#000000" stroke-width="2.85" fill="none"/>
<path d="M395.3 851.9h10.2M400.4 846.8v10.2" stroke="#000000" stroke-width="2.85" fill="none"/>
<path d="M417.2 849.0h10.2M422.3 843.9v10.2" stroke="#000000" stroke-width="2.85" fill="none"/>
<path d="M418.0 858.5h10.2M423.1 853.4v10.2" stroke="#000000" stroke-width="2.85" fill="none"/>
<path d="M423.1 860.0h10.2M428.2 854.9v10.2" stroke="#000000" stroke-width="2.85" fill="none"/>
<path d="M427.5 853.4h10.2M432.6 848.3v10.2" stroke="#000000" stroke-width="2.85" fill="none"/>
<path d="M436.2 835.8h10.2M441.3 830.7v10.2" stroke="#000000" stroke-width="2.85" fill="none"/>
<path d="M454.5 836.6h10.2M459.6 831.5v10.2" stroke="#000000" stroke-width="2.85" fill="none"/>
<path d="M463.9 839.5h10.2M469.0 834.4v10.2" stroke="#000000" stroke-width="2.85" fill="none"/>
<path d="M462.5 851.2h10.2M467.6 846.1v10.2" stroke="#000000" stroke-width="2.85" fill="none"/>
<path d="M442.8 862.1h10.2M447.9 857.0v10.2" stroke="#000000" stroke-width="2.85" fill="none"/>
<path d="M447.9 860.7h10.2M453.0 855.6v10.2" stroke="#000000" stroke-width="2.85" fill="none"/>
<path d="M446.4 865.8h10.2M451.5 860.7v10.2" stroke="#000000" stroke-width="2.85" fill="none"/>
<path d="M438.4 876.0h10.2M443.5 870.9v10.2" stroke="#000000" stroke-width="2.85" fill="none"/>
<path d="M414.3 832.2h10.2M419.4 827.1v10.2" stroke="#000000" stroke-width="2.85" fill="none"/>
<path d="M341.5 818.2h10.2M346.6 813.1v10.2" stroke="#000000" stroke-width="2.85" fill="none"/>
<path d="M356.1 824.0h10.2M361.2 818.9v10.2" stroke="#000000" stroke-width="2.85" fill="none"/>
<path d="M375.8 821.1h10.2M380.9 816.0v10.2" stroke="#000000" stroke-width="2.85" fill="none"/>
<path d="M394.8 808.0h10.2M399.9 802.9v10.2" stroke="#000000" stroke-width="2.85" fill="none"/>
<path d="M404.9 820.4h10.2M410.0 815.3v10.2" stroke="#000000" stroke-width="2.85" fill="none"/>
<path d="M420.3 819.6h10.2M425.4 814.5v10.2" stroke="#000000" stroke-width="2.85" fill="none"/>
<path d="M416.7 828.4h10.2M421.8 823.3v10.2" stroke="#000000" stroke-width="2.85" fill="none"/>
<path d="M393.3 834.2h10.2M398.4 829.1v10.2" stroke="#000000" stroke-width="2.85" fill="none"/>
<path d="M470.2 780.4h10.2M475.3 775.3v10.2" stroke="#000000" stroke-width="2.85" fill="none"/>
<path d="M487.7 793.6h10.2M492.8 788.5v10.2" stroke="#000000" stroke-width="2.85" fill="none"/>
<path d="M488.4 803.8h10.2M493.5 798.7v10.2" stroke="#000000" stroke-width="2.85" fill="none"/>
<path d="M508.8 804.5h10.2M513.9 799.4v10.2" stroke="#000000" stroke-width="2.85" fill="none"/>
<path d="M522.7 793.6h10.2M527.8 788.5v10.2" stroke="#000000" stroke-width="2.85" fill="none"/>
<path d="M451.9 805.3h10.2M457.0 800.2v10.2" stroke="#000000" stroke-width="2.85" fill="none"/>
<path d="M476.7 815.5h10.2M481.8 810.4v10.2" stroke="#000000" stroke-width="2.85" fill="none"/>
<path d="M480.4 819.1h10.2M485.5 814.0v10.2" stroke="#000000" stroke-width="2.85" fill="none"/>
<path d="M494.2 814.0h10.2M499.3 808.9v10.2" stroke="#000000" stroke-width="2.85" fill="none"/>
<path d="M504.5 818.4h10.2M509.6 813.3v10.2" stroke="#000000" stroke-width="2.85" fill="none"/>
<path d="M442.4 825.0h10.2M447.5 819.9v10.2" stroke="#000000" stroke-width="2.85" fill="none"/>
<path d="M463.6 826.4h10.2M468.7 821.3v10.2" stroke="#000000" stroke-width="2.85" fill="none"/>
<path d="M518.3 811.1h10.2M523.4 806.0v10.2" stroke="#000000" stroke-width="2.85" fill="none"/>
<path d="M465.9 839.0h10.2M471.0 833.9v10.2" stroke="#000000" stroke-width="2.85" fill="none"/>
<path d="M526.4 839.0h10.2M531.5 833.9v10.2" stroke="#000000" stroke-width="2.85" fill="none"/>
<path d="M527.2 847.0h10.2M532.3 841.9v10.2" stroke="#000000" stroke-width="2.85" fill="none"/>
<path d="M517.7 853.6h10.2M522.8 848.5v10.2" stroke="#000000" stroke-width="2.85" fill="none"/>
<path d="M538.8 858.0h10.2M543.9 852.9v10.2" stroke="#000000" stroke-width="2.85" fill="none"/>
<path d="M546.9 857.2h10.2M552.0 852.1v10.2" stroke="#000000" stroke-width="2.85" fill="none"/>
<path d="M484.1 866.0h10.2M489.2 860.9v10.2" stroke="#000000" stroke-width="2.85" fill="none"/>
<path d="M539.6 828.8h10.2M544.7 823.7v10.2" stroke="#000000" stroke-width="2.85" fill="none"/>
<path d="M525.4 793.3h10.2M530.5 788.2v10.2" stroke="#000000" stroke-width="2.85" fill="none"/>
<path d="M537.7 796.2h10.2M542.8 791.1v10.2" stroke="#000000" stroke-width="2.85" fill="none"/>
<path d="M521.9 801.5h10.2M527.0 796.4v10.2" stroke="#000000" stroke-width="2.85" fill="none"/>
<path d="M532.4 802.0h10.2M537.5 796.9v10.2" stroke="#000000" stroke-width="2.85" fill="none"/>
<path d="M537.1 803.2h10.2M542.2 798.1v10.2" stroke="#000000" stroke-width="2.85" fill="none"/>
<path d="M548.2 806.7h10.2M553.3 801.6v10.2" stroke="#000000" stroke-width="2.85" fill="none"/>
<path d="M518.4 809.0h10.2M523.5 803.9v10.2" stroke="#000000" stroke-width="2.85" fill="none"/>
<path d="M573.3 803.2h10.2M578.4 798.1v10.2" stroke="#000000" stroke-width="2.85" fill="none"/>
<path d="M568.6 809.0h10.2M573.7 803.9v10.2" stroke="#000000" stroke-width="2.85" fill="none"/>
<path d="M619.6 757.8h10.2M624.7 752.7v10.2" stroke="#000000" stroke-width="2.85" fill="none"/>
<path d="M660.3 764.4h10.2M665.4 759.3v10.2" stroke="#000000" stroke-width="2.85" fill="none"/>
<path d="M628.5 723.2h10.2M633.6 718.1v10.2" stroke="#000000" stroke-width="2.85" fill="none"/>
<path d="M641.1 761.0h10.2M646.2 755.9v10.2" stroke="#000000" stroke-width="2.85" fill="none"/>
<path d="M657.9 724.2h10.2M663.0 719.1v10.2" stroke="#000000" stroke-width="2.85" fill="none"/>
<path d="M574.2 803.4h10.2M579.3 798.3v10.2" stroke="#000000" stroke-width="2.85" fill="none"/>
<path d="M565.4 841.4h10.2M570.5 836.3v10.2" stroke="#000000" stroke-width="2.85" fill="none"/>
<path d="M585.3 842.6h10.2M590.4 837.5v10.2" stroke="#000000" stroke-width="2.85" fill="none"/>
<path d="M587.6 822.7h10.2M592.7 817.6v10.2" stroke="#000000" stroke-width="2.85" fill="none"/>
<path d="M463.4 851.0h10.2M468.5 845.9v10.2" stroke="#000000" stroke-width="2.85" fill="none"/>
<path d="M469.9 849.6h10.2M475.0 844.5v10.2" stroke="#000000" stroke-width="2.85" fill="none"/>
<path d="M483.1 836.5h10.2M488.2 831.4v10.2" stroke="#000000" stroke-width="2.85" fill="none"/>
<path d="M486.0 848.1h10.2M491.1 843.0v10.2" stroke="#000000" stroke-width="2.85" fill="none"/>
<path d="M487.5 854.0h10.2M492.6 848.9v10.2" stroke="#000000" stroke-width="2.85" fill="none"/>
<path d="M484.5 861.3h10.2M489.6 856.2v10.2" stroke="#000000" stroke-width="2.85" fill="none"/>
<path d="M490.4 849.6h10.2M495.5 844.5v10.2" stroke="#000000" stroke-width="2.85" fill="none"/>
<path d="M478.7 856.9h10.2M483.8 851.8v10.2" stroke="#000000" stroke-width="2.85" fill="none"/>
<path d="M468.5 871.5h10.2M473.6 866.4v10.2" stroke="#000000" stroke-width="2.85" fill="none"/>
<path d="M388.6 859.3h10.2M393.7 854.2v10.2" stroke="#000000" stroke-width="2.85" fill="none"/>
<path d="M395.6 862.2h10.2M400.7 857.1v10.2" stroke="#000000" stroke-width="2.85" fill="none"/>
<path d="M402.6 862.2h10.2M407.7 857.1v10.2" stroke="#000000" stroke-width="2.85" fill="none"/>
<path d="M480.9 842.0h10.2M486.0 836.9v10.2" stroke="#000000" stroke-width="2.85" fill="none"/>
<path d="M488.9 842.0h10.2M494.0 836.9v10.2" stroke="#000000" stroke-width="2.85" fill="none"/>
<path d="M492.4 856.0h10.2M497.5 850.9v10.2" stroke="#000000" stroke-width="2.85" fill="none"/>
<path d="M481.4 853.0h10.2M486.5 847.9v10.2" stroke="#000000" stroke-width="2.85" fill="none"/>
<path d="M488.9 862.0h10.2M494.0 856.9v10.2" stroke="#000000" stroke-width="2.85" fill="none"/>
<path d="M478.9 848.0h10.2M484.0 842.9v10.2" stroke="#000000" stroke-width="2.85" fill="none"/>
<path d="M474.9 858.0h10.2M480.0 852.9v10.2" stroke="#000000" stroke-width="2.85" fill="none"/>
<rect x="221.8" y="894.7" width="9.6" height="9.4" fill="none" stroke="#000000" stroke-width="2.4"/>
<rect x="242.4" y="877.9" width="9.6" height="9.4" fill="none" stroke="#000000" stroke-width="2.4"/>
<rect x="281.6" y="888.3" width="9.6" height="9.4" fill="none" stroke="#000000" stroke-width="2.4"/>
<rect x="343.6" y="877.1" width="9.6" height="9.4" fill="none" stroke="#000000" stroke-width="2.4"/>
<rect x="349.4" y="890.3" width="9.6" height="9.4" fill="none" stroke="#000000" stroke-width="2.4"/>
<rect x="364.8" y="885.2" width="9.6" height="9.4" fill="none" stroke="#000000" stroke-width="2.4"/>
<rect x="364.0" y="869.8" width="9.6" height="9.4" fill="none" stroke="#000000" stroke-width="2.4"/>
<rect x="347.2" y="864.7" width="9.6" height="9.4" fill="none" stroke="#000000" stroke-width="2.4"/>
<rect x="381.6" y="878.6" width="9.6" height="9.4" fill="none" stroke="#000000" stroke-width="2.4"/>
<rect x="386.3" y="865.4" width="9.6" height="9.4" fill="none" stroke="#000000" stroke-width="2.4"/>
<rect x="390.3" y="869.8" width="9.6" height="9.4" fill="none" stroke="#000000" stroke-width="2.4"/>
<rect x="598.4" y="850.7" width="9.6" height="9.4" fill="none" stroke="#000000" stroke-width="2.4"/>
<rect x="581.2" y="879.6" width="9.6" height="9.4" fill="none" stroke="#000000" stroke-width="2.4"/>
<rect x="393.2" y="845.3" width="9.6" height="9.4" fill="none" stroke="#000000" stroke-width="2.4"/>
<rect x="356.2" y="848.6" width="9.6" height="9.4" fill="none" stroke="#000000" stroke-width="2.4"/>
<rect x="364.0" y="847.3" width="9.6" height="9.4" fill="none" stroke="#000000" stroke-width="2.4"/>
<path d="M152.6 847.1L157.2 851.4L152.6 855.7L148.0 851.4Z" fill="none" stroke="#000000" stroke-width="2.6"/>
<path d="M478.7 834.6L492.3 834.6L486.5 822.6L484.5 822.6ZM482.8 831.8L488.2 831.8L485.5 826.0Z" fill="#0000ff" fill-rule="evenodd"/>
<path d="M494.7 828.8L508.3 828.8L502.5 816.8L500.5 816.8ZM498.8 825.9L504.2 825.9L501.5 820.2Z" fill="#0000ff" fill-rule="evenodd"/>
<path d="M512.2 825.9L525.8 825.9L520.0 813.9L518.0 813.9ZM516.3 823.0L521.7 823.0L519.0 817.3Z" fill="#0000ff" fill-rule="evenodd"/>
<path d="M490.4 837.8L504.0 837.8L498.2 825.7L496.2 825.7ZM494.5 834.9L499.9 834.9L497.2 829.1Z" fill="#0000ff" fill-rule="evenodd"/>
<path d="M530.6 828.9L544.2 828.9L538.4 816.9L536.4 816.9ZM534.7 826.0L540.1 826.0L537.4 820.3Z" fill="#0000ff" fill-rule="evenodd"/>
<path d="M505.8 847.9L519.4 847.9L513.6 835.9L511.6 835.9ZM509.9 845.0L515.3 845.0L512.6 839.3Z" fill="#0000ff" fill-rule="evenodd"/>
<path d="M516.0 847.2L529.6 847.2L523.8 835.2L521.8 835.2ZM520.1 844.4L525.5 844.4L522.8 838.6Z" fill="#0000ff" fill-rule="evenodd"/>
<path d="M497.0 847.9L510.6 847.9L504.8 835.9L502.8 835.9ZM501.1 845.0L506.5 845.0L503.8 839.3Z" fill="#0000ff" fill-rule="evenodd"/>
<path d="M491.2 850.1L504.8 850.1L499.0 838.1L497.0 838.1ZM495.3 847.2L500.7 847.2L498.0 841.5Z" fill="#0000ff" fill-rule="evenodd"/>
<path d="M482.4 851.5L496.0 851.5L490.2 839.5L488.2 839.5ZM486.5 848.6L491.9 848.6L489.2 842.9Z" fill="#0000ff" fill-rule="evenodd"/>
<path d="M473.6 854.5L487.2 854.5L481.4 842.5L479.4 842.5ZM477.7 851.6L483.1 851.6L480.4 845.9Z" fill="#0000ff" fill-rule="evenodd"/>
<path d="M470.7 858.1L484.3 858.1L478.5 846.1L476.5 846.1ZM474.8 855.2L480.2 855.2L477.5 849.5Z" fill="#0000ff" fill-rule="evenodd"/>
<path d="M478.0 861.0L491.6 861.0L485.8 849.0L483.8 849.0ZM482.1 858.1L487.5 858.1L484.8 852.4Z" fill="#0000ff" fill-rule="evenodd"/>
<path d="M475.1 864.0L488.7 864.0L482.9 852.0L480.9 852.0ZM479.2 861.1L484.6 861.1L481.9 855.4Z" fill="#0000ff" fill-rule="evenodd"/>
<path d="M483.9 864.0L497.5 864.0L491.7 852.0L489.7 852.0ZM488.0 861.1L493.4 861.1L490.7 855.4Z" fill="#0000ff" fill-rule="evenodd"/>
<path d="M480.9 868.3L494.5 868.3L488.7 856.3L486.7 856.3ZM485.0 865.4L490.4 865.4L487.7 859.7Z" fill="#0000ff" fill-rule="evenodd"/>
<path d="M472.2 871.3L485.8 871.3L480.0 859.3L478.0 859.3ZM476.3 868.4L481.7 868.4L479.0 862.7Z" fill="#0000ff" fill-rule="evenodd"/>
<path d="M470.7 875.6L484.3 875.6L478.5 863.6L476.5 863.6ZM474.8 872.8L480.2 872.8L477.5 867.0Z" fill="#0000ff" fill-rule="evenodd"/>
<path d="M472.9 878.6L486.5 878.6L480.7 866.6L478.7 866.6ZM477.0 875.8L482.4 875.8L479.7 870.0Z" fill="#0000ff" fill-rule="evenodd"/>
<path d="M505.0 863.2L518.6 863.2L512.8 851.2L510.8 851.2ZM509.1 860.4L514.5 860.4L511.8 854.6Z" fill="#0000ff" fill-rule="evenodd"/>
<path d="M500.6 871.3L514.2 871.3L508.4 859.3L506.4 859.3ZM504.7 868.4L510.1 868.4L507.4 862.7Z" fill="#0000ff" fill-rule="evenodd"/>
<path d="M554.2 852.0L567.8 852.0L562.0 840.0L560.0 840.0ZM558.3 849.1L563.7 849.1L561.0 843.4Z" fill="#0000ff" fill-rule="evenodd"/>
<path d="M467.8 862.5L481.4 862.5L475.6 850.5L473.6 850.5ZM471.9 859.6L477.3 859.6L474.6 853.9Z" fill="#0000ff" fill-rule="evenodd"/>
<path d="M538.3 815.0L551.9 815.0L546.1 803.0L544.1 803.0ZM542.4 812.1L547.8 812.1L545.1 806.4Z" fill="#0000ff" fill-rule="evenodd"/>
<path d="M542.4 825.6L556.0 825.6L550.2 813.6L548.2 813.6ZM546.5 822.8L551.9 822.8L549.2 817.0Z" fill="#0000ff" fill-rule="evenodd"/>
<path d="M564.9 839.2L578.5 839.2L572.7 827.2L570.7 827.2ZM569.0 836.4L574.4 836.4L571.7 830.6Z" fill="#0000ff" fill-rule="evenodd"/>
<path d="M646.5 814.9L660.1 814.9L654.3 802.9L652.3 802.9ZM650.6 812.0L656.0 812.0L653.3 806.3Z" fill="#0000ff" fill-rule="evenodd"/>
<path d="M614.7 838.5L628.3 838.5L622.5 826.5L620.5 826.5ZM618.8 835.6L624.2 835.6L621.5 829.9Z" fill="#0000ff" fill-rule="evenodd"/>
<path d="M545.2 805.4L558.8 805.4L553.0 793.4L551.0 793.4ZM549.3 802.5L554.7 802.5L552.0 796.8Z" fill="#0000ff" fill-rule="evenodd"/>
<path d="M597.4 790.8L611.0 790.8L605.2 778.8L603.2 778.8ZM601.5 787.9L606.9 787.9L604.2 782.2Z" fill="#0000ff" fill-rule="evenodd"/>
<path d="M471.2 851.0L484.8 851.0L479.0 839.0L477.0 839.0ZM475.3 848.1L480.7 848.1L478.0 842.4Z" fill="#0000ff" fill-rule="evenodd"/>
<path d="M478.2 848.5L491.8 848.5L486.0 836.5L484.0 836.5ZM482.3 845.6L487.7 845.6L485.0 839.9Z" fill="#0000ff" fill-rule="evenodd"/>
<path d="M485.2 851.0L498.8 851.0L493.0 839.0L491.0 839.0ZM489.3 848.1L494.7 848.1L492.0 842.4Z" fill="#0000ff" fill-rule="evenodd"/>
<path d="M481.2 856.0L494.8 856.0L489.0 844.0L487.0 844.0ZM485.3 853.1L490.7 853.1L488.0 847.4Z" fill="#0000ff" fill-rule="evenodd"/>
<path d="M475.2 858.0L488.8 858.0L483.0 846.0L481.0 846.0ZM479.3 855.1L484.7 855.1L482.0 849.4Z" fill="#0000ff" fill-rule="evenodd"/>
<path d="M469.2 864.0L482.8 864.0L477.0 852.0L475.0 852.0ZM473.3 861.1L478.7 861.1L476.0 855.4Z" fill="#0000ff" fill-rule="evenodd"/>
<path d="M483.2 861.5L496.8 861.5L491.0 849.5L489.0 849.5ZM487.3 858.6L492.7 858.6L490.0 852.9Z" fill="#0000ff" fill-rule="evenodd"/>
<path d="M487.2 857.0L500.8 857.0L495.0 845.0L493.0 845.0ZM491.3 854.1L496.7 854.1L494.0 848.4Z" fill="#0000ff" fill-rule="evenodd"/>
<path d="M473.2 868.0L486.8 868.0L481.0 856.0L479.0 856.0ZM477.3 865.1L482.7 865.1L480.0 859.4Z" fill="#0000ff" fill-rule="evenodd"/>
<path d="M479.2 866.5L492.8 866.5L487.0 854.5L485.0 854.5ZM483.3 863.6L488.7 863.6L486.0 857.9Z" fill="#0000ff" fill-rule="evenodd"/>
<path d="M467.2 876.0L480.8 876.0L475.0 864.0L473.0 864.0ZM471.3 873.1L476.7 873.1L474.0 867.4Z" fill="#0000ff" fill-rule="evenodd"/>
<path d="M470.2 881.0L483.8 881.0L478.0 869.0L476.0 869.0ZM474.3 878.1L479.7 878.1L477.0 872.4Z" fill="#0000ff" fill-rule="evenodd"/>
<path d="M476.2 872.0L489.8 872.0L484.0 860.0L482.0 860.0ZM480.3 869.1L485.7 869.1L483.0 863.4Z" fill="#0000ff" fill-rule="evenodd"/>
<path d="M463.9 876.7h10.2M469.0 871.6v10.2" stroke="#0000ff" stroke-width="2.85" fill="none"/>
<path d="M501.6 879.9h10.2M506.7 874.8v10.2" stroke="#0000ff" stroke-width="2.85" fill="none"/>
<path d="M543.9 867.4h10.2M549.0 862.3v10.2" stroke="#0000ff" stroke-width="2.85" fill="none"/>
<path d="M535.2 845.5h10.2M540.3 840.4v10.2" stroke="#0000ff" stroke-width="2.85" fill="none"/>
<path d="M584.8 705.3h10.2M589.9 700.2v10.2" stroke="#0000ff" stroke-width="2.85" fill="none"/>
<path d="M595.3 710.5h10.2M600.4 705.4v10.2" stroke="#0000ff" stroke-width="2.85" fill="none"/>
<path d="M605.1 705.3h10.2M610.2 700.2v10.2" stroke="#0000ff" stroke-width="2.85" fill="none"/>
<path d="M639.9 703.9h10.2M645.0 698.8v10.2" stroke="#0000ff" stroke-width="2.85" fill="none"/>
<path d="M582.8 730.2h10.2M587.9 725.1v10.2" stroke="#0000ff" stroke-width="2.85" fill="none"/>
<path d="M595.3 748.6h10.2M600.4 743.5v10.2" stroke="#0000ff" stroke-width="2.85" fill="none"/>
<path d="M636.7 725.6h10.2M641.8 720.5v10.2" stroke="#0000ff" stroke-width="2.85" fill="none"/>
<path d="M640.6 738.1h10.2M645.7 733.0v10.2" stroke="#0000ff" stroke-width="2.85" fill="none"/>
<path d="M599.9 764.4h10.2M605.0 759.3v10.2" stroke="#0000ff" stroke-width="2.85" fill="none"/>
<path d="M607.7 759.1h10.2M612.8 754.0v10.2" stroke="#0000ff" stroke-width="2.85" fill="none"/>
<path d="M622.2 764.4h10.2M627.3 759.3v10.2" stroke="#0000ff" stroke-width="2.85" fill="none"/>
<path d="M645.9 764.4h10.2M651.0 759.3v10.2" stroke="#0000ff" stroke-width="2.85" fill="none"/>
<path d="M653.7 748.6h10.2M658.8 743.5v10.2" stroke="#0000ff" stroke-width="2.85" fill="none"/>
<path d="M638.0 725.3h10.2M643.1 720.2v10.2" stroke="#0000ff" stroke-width="2.85" fill="none"/>
<path d="M644.3 734.7h10.2M649.4 729.6v10.2" stroke="#0000ff" stroke-width="2.85" fill="none"/>
<path d="M662.2 725.3h10.2M667.3 720.2v10.2" stroke="#0000ff" stroke-width="2.85" fill="none"/>
<path d="M621.2 764.1h10.2M626.3 759.0v10.2" stroke="#0000ff" stroke-width="2.85" fill="none"/>
<path d="M627.5 760.0h10.2M632.6 754.9v10.2" stroke="#0000ff" stroke-width="2.85" fill="none"/>
<path d="M645.4 765.2h10.2M650.5 760.1v10.2" stroke="#0000ff" stroke-width="2.85" fill="none"/>
<path d="M649.6 770.5h10.2M654.7 765.4v10.2" stroke="#0000ff" stroke-width="2.85" fill="none"/>
<path d="M599.1 773.6h10.2M604.2 768.5v10.2" stroke="#0000ff" stroke-width="2.85" fill="none"/>
<path d="M606.5 778.9h10.2M611.6 773.8v10.2" stroke="#0000ff" stroke-width="2.85" fill="none"/>
<path d="M657.9 783.1h10.2M663.0 778.0v10.2" stroke="#0000ff" stroke-width="2.85" fill="none"/>
<path d="M660.1 789.4h10.2M665.2 784.3v10.2" stroke="#0000ff" stroke-width="2.85" fill="none"/>
<path d="M598.1 783.1h10.2M603.2 778.0v10.2" stroke="#0000ff" stroke-width="2.85" fill="none"/>
<path d="M631.7 774.7h10.2M636.8 769.6v10.2" stroke="#0000ff" stroke-width="2.85" fill="none"/>
<path d="M633.8 793.6h10.2M638.9 788.5v10.2" stroke="#0000ff" stroke-width="2.85" fill="none"/>
<path d="M645.4 795.7h10.2M650.5 790.6v10.2" stroke="#0000ff" stroke-width="2.85" fill="none"/>
<path d="M656.9 750.5h10.2M662.0 745.4v10.2" stroke="#0000ff" stroke-width="2.85" fill="none"/>
<path d="M581.8 794.7h10.2M586.9 789.6v10.2" stroke="#0000ff" stroke-width="2.85" fill="none"/>
<path d="M587.6 793.5h10.2M592.7 788.4v10.2" stroke="#0000ff" stroke-width="2.85" fill="none"/>
<path d="M580.6 813.4h10.2M585.7 808.3v10.2" stroke="#0000ff" stroke-width="2.85" fill="none"/>
<path d="M581.8 820.4h10.2M586.9 815.3v10.2" stroke="#0000ff" stroke-width="2.85" fill="none"/>
<path d="M578.3 828.5h10.2M583.4 823.4v10.2" stroke="#0000ff" stroke-width="2.85" fill="none"/>
<path d="M582.9 834.4h10.2M588.0 829.3v10.2" stroke="#0000ff" stroke-width="2.85" fill="none"/>
<path d="M599.3 811.0h10.2M604.4 805.9v10.2" stroke="#0000ff" stroke-width="2.85" fill="none"/>
<path d="M601.6 834.4h10.2M606.7 829.3v10.2" stroke="#0000ff" stroke-width="2.85" fill="none"/>
<path d="M595.8 836.7h10.2M600.9 831.6v10.2" stroke="#0000ff" stroke-width="2.85" fill="none"/>
<path d="M575.9 843.7h10.2M581.0 838.6v10.2" stroke="#0000ff" stroke-width="2.85" fill="none"/>
<path d="M592.3 847.2h10.2M597.4 842.1v10.2" stroke="#0000ff" stroke-width="2.85" fill="none"/>
<path d="M593.4 853.1h10.2M598.5 848.0v10.2" stroke="#0000ff" stroke-width="2.85" fill="none"/>
<path d="M573.6 857.7h10.2M578.7 852.6v10.2" stroke="#0000ff" stroke-width="2.85" fill="none"/>
<path d="M581.8 863.6h10.2M586.9 858.5v10.2" stroke="#0000ff" stroke-width="2.85" fill="none"/>
<path d="M589.9 856.6h10.2M595.0 851.5v10.2" stroke="#0000ff" stroke-width="2.85" fill="none"/>
<path d="M592.3 864.7h10.2M597.4 859.6v10.2" stroke="#0000ff" stroke-width="2.85" fill="none"/>
<path d="M608.6 854.2h10.2M613.7 849.1v10.2" stroke="#0000ff" stroke-width="2.85" fill="none"/>
<path d="M615.6 830.9h10.2M620.7 825.8v10.2" stroke="#0000ff" stroke-width="2.85" fill="none"/>
<path d="M620.3 819.2h10.2M625.4 814.1v10.2" stroke="#0000ff" stroke-width="2.85" fill="none"/>
<path d="M627.3 813.4h10.2M632.4 808.3v10.2" stroke="#0000ff" stroke-width="2.85" fill="none"/>
<path d="M629.6 801.7h10.2M634.7 796.6v10.2" stroke="#0000ff" stroke-width="2.85" fill="none"/>
<path d="M636.4 867.3h10.2M641.5 862.2v10.2" stroke="#0000ff" stroke-width="2.85" fill="none"/>
<path d="M615.6 793.5h10.2M620.7 788.4v10.2" stroke="#0000ff" stroke-width="2.85" fill="none"/>
<path d="M658.7 785.3h10.2M663.8 780.2v10.2" stroke="#0000ff" stroke-width="2.85" fill="none"/>
<path d="M659.6 793.1h10.2M664.7 788.0v10.2" stroke="#0000ff" stroke-width="2.85" fill="none"/>
<path d="M648.2 800.1h10.2M653.3 795.0v10.2" stroke="#0000ff" stroke-width="2.85" fill="none"/>
<path d="M642.5 818.5h10.2M647.6 813.4v10.2" stroke="#0000ff" stroke-width="2.85" fill="none"/>
<path d="M632.4 810.6h10.2M637.5 805.5v10.2" stroke="#0000ff" stroke-width="2.85" fill="none"/>
<path d="M635.0 797.5h10.2M640.1 792.4v10.2" stroke="#0000ff" stroke-width="2.85" fill="none"/>
<path d="M579.4 861.7h10.2M584.5 856.6v10.2" stroke="#0000ff" stroke-width="2.85" fill="none"/>
<path d="M580.9 865.3h10.2M586.0 860.2v10.2" stroke="#0000ff" stroke-width="2.85" fill="none"/>
<path d="M589.6 855.8h10.2M594.7 850.7v10.2" stroke="#0000ff" stroke-width="2.85" fill="none"/>
<path d="M592.5 781.2h10.2M597.6 776.1v10.2" stroke="#0000ff" stroke-width="2.85" fill="none"/>
<path d="M602.0 778.2h10.2M607.1 773.1v10.2" stroke="#0000ff" stroke-width="2.85" fill="none"/>
<path d="M603.5 784.1h10.2M608.6 779.0v10.2" stroke="#0000ff" stroke-width="2.85" fill="none"/>
<path d="M578.7 790.7h10.2M583.8 785.6v10.2" stroke="#0000ff" stroke-width="2.85" fill="none"/>
<path d="M584.5 798.7h10.2M589.6 793.6v10.2" stroke="#0000ff" stroke-width="2.85" fill="none"/>
<path d="M579.4 805.3h10.2M584.5 800.2v10.2" stroke="#0000ff" stroke-width="2.85" fill="none"/>
<path d="M585.6 780.8h10.2M590.7 775.7v10.2" stroke="#0000ff" stroke-width="2.85" fill="none"/>
<path d="M589.6 783.9h10.2M594.7 778.8v10.2" stroke="#0000ff" stroke-width="2.85" fill="none"/>
<path d="M588.6 797.1h10.2M593.7 792.0v10.2" stroke="#0000ff" stroke-width="2.85" fill="none"/>
<path d="M577.4 803.3h10.2M582.5 798.2v10.2" stroke="#0000ff" stroke-width="2.85" fill="none"/>
<path d="M593.7 801.2h10.2M598.8 796.1v10.2" stroke="#0000ff" stroke-width="2.85" fill="none"/>
<path d="M600.9 804.3h10.2M606.0 799.2v10.2" stroke="#0000ff" stroke-width="2.85" fill="none"/>
<path d="M588.1 807.3h10.2M593.2 802.2v10.2" stroke="#0000ff" stroke-width="2.85" fill="none"/>
<path d="M588.5 812.5h10.2M593.6 807.4v10.2" stroke="#0000ff" stroke-width="2.85" fill="none"/>
<path d="M589.3 815.9h10.2M594.4 810.8v10.2" stroke="#0000ff" stroke-width="2.85" fill="none"/>
<path d="M588.2 826.4h10.2M593.3 821.3v10.2" stroke="#0000ff" stroke-width="2.85" fill="none"/>
<path d="M590.4 832.1h10.2M595.5 827.0v10.2" stroke="#0000ff" stroke-width="2.85" fill="none"/>
<path d="M594.3 811.2h10.2M599.4 806.1v10.2" stroke="#0000ff" stroke-width="2.85" fill="none"/>
<path d="M594.3 818.3h10.2M599.4 813.2v10.2" stroke="#0000ff" stroke-width="2.85" fill="none"/>
<path d="M594.7 832.5h10.2M599.8 827.4v10.2" stroke="#0000ff" stroke-width="2.85" fill="none"/>
<path d="M598.3 805.8h10.2M603.4 800.7v10.2" stroke="#0000ff" stroke-width="2.85" fill="none"/>
<path d="M599.6 818.3h10.2M604.7 813.2v10.2" stroke="#0000ff" stroke-width="2.85" fill="none"/>
<path d="M599.5 823.5h10.2M604.6 818.4v10.2" stroke="#0000ff" stroke-width="2.85" fill="none"/>
<path d="M598.6 828.1h10.2M603.7 823.0v10.2" stroke="#0000ff" stroke-width="2.85" fill="none"/>
<path d="M598.7 833.5h10.2M603.8 828.4v10.2" stroke="#0000ff" stroke-width="2.85" fill="none"/>
<path d="M605.0 806.0h10.2M610.1 800.9v10.2" stroke="#0000ff" stroke-width="2.85" fill="none"/>
<path d="M602.8 811.4h10.2M607.9 806.3v10.2" stroke="#0000ff" stroke-width="2.85" fill="none"/>
<path d="M605.3 817.0h10.2M610.4 811.9v10.2" stroke="#0000ff" stroke-width="2.85" fill="none"/>
<path d="M604.3 821.6h10.2M609.4 816.5v10.2" stroke="#0000ff" stroke-width="2.85" fill="none"/>
<path d="M603.9 826.9h10.2M609.0 821.8v10.2" stroke="#0000ff" stroke-width="2.85" fill="none"/>
<path d="M609.2 808.4h10.2M614.3 803.3v10.2" stroke="#0000ff" stroke-width="2.85" fill="none"/>
<path d="M609.4 813.5h10.2M614.5 808.4v10.2" stroke="#0000ff" stroke-width="2.85" fill="none"/>
<path d="M610.0 818.7h10.2M615.1 813.6v10.2" stroke="#0000ff" stroke-width="2.85" fill="none"/>
<path d="M610.0 828.6h10.2M615.1 823.5v10.2" stroke="#0000ff" stroke-width="2.85" fill="none"/>
<path d="M610.1 832.4h10.2M615.2 827.3v10.2" stroke="#0000ff" stroke-width="2.85" fill="none"/>
<path d="M578.6 786.0h10.2M583.7 780.9v10.2" stroke="#0000ff" stroke-width="2.85" fill="none"/>
<path d="M582.9 790.2h10.2M588.0 785.1v10.2" stroke="#0000ff" stroke-width="2.85" fill="none"/>
<path d="M579.0 794.4h10.2M584.1 789.3v10.2" stroke="#0000ff" stroke-width="2.85" fill="none"/>
<path d="M583.2 807.0h10.2M588.3 801.9v10.2" stroke="#0000ff" stroke-width="2.85" fill="none"/>
<path d="M577.5 811.2h10.2M582.6 806.1v10.2" stroke="#0000ff" stroke-width="2.85" fill="none"/>
<path d="M582.7 823.8h10.2M587.8 818.7v10.2" stroke="#0000ff" stroke-width="2.85" fill="none"/>
<path d="M578.3 836.4h10.2M583.4 831.3v10.2" stroke="#0000ff" stroke-width="2.85" fill="none"/>
<rect x="258.8" y="854.3" width="9.6" height="9.4" fill="none" stroke="#0000ff" stroke-width="2.4"/>
<rect x="257.6" y="863.3" width="9.6" height="9.4" fill="none" stroke="#0000ff" stroke-width="2.4"/>
<rect x="264.2" y="874.3" width="9.6" height="9.4" fill="none" stroke="#0000ff" stroke-width="2.4"/>
<rect x="262.2" y="878.3" width="9.6" height="9.4" fill="none" stroke="#0000ff" stroke-width="2.4"/>
<rect x="257.2" y="885.3" width="9.6" height="9.4" fill="none" stroke="#0000ff" stroke-width="2.4"/>
<rect x="270.2" y="893.7" width="9.6" height="9.4" fill="none" stroke="#0000ff" stroke-width="2.4"/>
<rect x="297.6" y="859.6" width="9.6" height="9.4" fill="none" stroke="#0000ff" stroke-width="2.4"/>
<rect x="299.1" y="872.7" width="9.6" height="9.4" fill="none" stroke="#0000ff" stroke-width="2.4"/>
<rect x="310.0" y="861.1" width="9.6" height="9.4" fill="none" stroke="#0000ff" stroke-width="2.4"/>
<rect x="315.1" y="879.3" width="9.6" height="9.4" fill="none" stroke="#0000ff" stroke-width="2.4"/>
<rect x="325.3" y="858.1" width="9.6" height="9.4" fill="none" stroke="#0000ff" stroke-width="2.4"/>
<rect x="330.5" y="871.3" width="9.6" height="9.4" fill="none" stroke="#0000ff" stroke-width="2.4"/>
<rect x="361.1" y="844.3" width="9.6" height="9.4" fill="none" stroke="#0000ff" stroke-width="2.4"/>
<rect x="364.8" y="841.4" width="9.6" height="9.4" fill="none" stroke="#0000ff" stroke-width="2.4"/>
<rect x="379.4" y="837.0" width="9.6" height="9.4" fill="none" stroke="#0000ff" stroke-width="2.4"/>
<rect x="432.9" y="839.2" width="9.6" height="9.4" fill="none" stroke="#0000ff" stroke-width="2.4"/>
<rect x="446.0" y="833.3" width="9.6" height="9.4" fill="none" stroke="#0000ff" stroke-width="2.4"/>
<rect x="452.6" y="844.3" width="9.6" height="9.4" fill="none" stroke="#0000ff" stroke-width="2.4"/>
<rect x="404.4" y="857.4" width="9.6" height="9.4" fill="none" stroke="#0000ff" stroke-width="2.4"/>
<rect x="612.4" y="842.5" width="9.6" height="9.4" fill="none" stroke="#0000ff" stroke-width="2.4"/>
<rect x="633.0" y="823.1" width="9.6" height="9.4" fill="none" stroke="#0000ff" stroke-width="2.4"/>
<rect x="582.9" y="815.2" width="9.6" height="9.4" fill="none" stroke="#0000ff" stroke-width="2.4"/>
<rect x="581.5" y="830.1" width="9.6" height="9.4" fill="none" stroke="#0000ff" stroke-width="2.4"/>
<rect x="564.2" y="820.8" width="9.6" height="9.4" fill="none" stroke="#0000ff" stroke-width="2.4"/>
<path d="M185.6 868.1L190.2 872.4L185.6 876.7L181.0 872.4Z" fill="none" stroke="#0000ff" stroke-width="2.6"/>
<path d="M191.5 849.6h10.2M196.6 844.5v10.2" stroke="#ff0000" stroke-width="2.85" fill="none"/>
<path d="M194.3 832.0h10.2M199.4 826.9v10.2" stroke="#ff0000" stroke-width="2.85" fill="none"/>
<path d="M205.3 833.0h10.2M210.4 827.9v10.2" stroke="#ff0000" stroke-width="2.85" fill="none"/>
<path d="M239.9 825.0h10.2M245.0 819.9v10.2" stroke="#ff0000" stroke-width="2.85" fill="none"/>
<path d="M246.9 820.6h10.2M252.0 815.5v10.2" stroke="#ff0000" stroke-width="2.85" fill="none"/>
<path d="M258.5 823.0h10.2M263.6 817.9v10.2" stroke="#ff0000" stroke-width="2.85" fill="none"/>
<path d="M348.8 795.5h10.2M353.9 790.4v10.2" stroke="#ff0000" stroke-width="2.85" fill="none"/>
<path d="M358.3 792.2h10.2M363.4 787.1v10.2" stroke="#ff0000" stroke-width="2.85" fill="none"/>
<path d="M366.3 802.8h10.2M371.4 797.7v10.2" stroke="#ff0000" stroke-width="2.85" fill="none"/>
<path d="M377.2 797.0h10.2M382.3 791.9v10.2" stroke="#ff0000" stroke-width="2.85" fill="none"/>
<path d="M386.7 792.2h10.2M391.8 787.1v10.2" stroke="#ff0000" stroke-width="2.85" fill="none"/>
<path d="M359.0 813.1h10.2M364.1 808.0v10.2" stroke="#ff0000" stroke-width="2.85" fill="none"/>
<path d="M378.0 813.1h10.2M383.1 808.0v10.2" stroke="#ff0000" stroke-width="2.85" fill="none"/>
<path d="M385.9 815.0h10.2M391.0 809.9v10.2" stroke="#ff0000" stroke-width="2.85" fill="none"/>
<path d="M385.3 820.4h10.2M390.4 815.3v10.2" stroke="#ff0000" stroke-width="2.85" fill="none"/>
<path d="M351.7 820.4h10.2M356.8 815.3v10.2" stroke="#ff0000" stroke-width="2.85" fill="none"/>
<path d="M417.4 777.3h10.2M422.5 772.2v10.2" stroke="#ff0000" stroke-width="2.85" fill="none"/>
<path d="M424.7 783.1h10.2M429.8 778.0v10.2" stroke="#ff0000" stroke-width="2.85" fill="none"/>
<path d="M410.8 805.8h10.2M415.9 800.7v10.2" stroke="#ff0000" stroke-width="2.85" fill="none"/>
<path d="M426.9 799.2h10.2M432.0 794.1v10.2" stroke="#ff0000" stroke-width="2.85" fill="none"/>
<path d="M426.1 807.2h10.2M431.2 802.1v10.2" stroke="#ff0000" stroke-width="2.85" fill="none"/>
<path d="M401.3 827.7h10.2M406.4 822.6v10.2" stroke="#ff0000" stroke-width="2.85" fill="none"/>
<path d="M499.1 779.0h10.2M504.2 773.9v10.2" stroke="#ff0000" stroke-width="2.85" fill="none"/>
<path d="M467.2 789.2h10.2M472.3 784.1v10.2" stroke="#ff0000" stroke-width="2.85" fill="none"/>
<path d="M457.7 794.3h10.2M462.8 789.2v10.2" stroke="#ff0000" stroke-width="2.85" fill="none"/>
<path d="M485.5 789.9h10.2M490.6 784.8v10.2" stroke="#ff0000" stroke-width="2.85" fill="none"/>
<path d="M480.4 795.0h10.2M485.5 789.9v10.2" stroke="#ff0000" stroke-width="2.85" fill="none"/>
<path d="M468.7 799.4h10.2M473.8 794.3v10.2" stroke="#ff0000" stroke-width="2.85" fill="none"/>
<path d="M475.3 803.1h10.2M480.4 798.0v10.2" stroke="#ff0000" stroke-width="2.85" fill="none"/>
<path d="M481.1 810.4h10.2M486.2 805.3v10.2" stroke="#ff0000" stroke-width="2.85" fill="none"/>
<path d="M504.5 801.6h10.2M509.6 796.5v10.2" stroke="#ff0000" stroke-width="2.85" fill="none"/>
<path d="M453.4 808.2h10.2M458.5 803.1v10.2" stroke="#ff0000" stroke-width="2.85" fill="none"/>
<path d="M439.5 813.3h10.2M444.6 808.2v10.2" stroke="#ff0000" stroke-width="2.85" fill="none"/>
<path d="M450.4 816.2h10.2M455.5 811.1v10.2" stroke="#ff0000" stroke-width="2.85" fill="none"/>
<path d="M466.5 817.7h10.2M471.6 812.6v10.2" stroke="#ff0000" stroke-width="2.85" fill="none"/>
<path d="M459.2 822.8h10.2M464.3 817.7v10.2" stroke="#ff0000" stroke-width="2.85" fill="none"/>
<path d="M487.7 830.8h10.2M492.8 825.7v10.2" stroke="#ff0000" stroke-width="2.85" fill="none"/>
<path d="M515.4 814.7h10.2M520.5 809.6v10.2" stroke="#ff0000" stroke-width="2.85" fill="none"/>
<path d="M530.8 833.1h10.2M535.9 828.0v10.2" stroke="#ff0000" stroke-width="2.85" fill="none"/>
<path d="M503.8 849.9h10.2M508.9 844.8v10.2" stroke="#ff0000" stroke-width="2.85" fill="none"/>
<path d="M554.2 829.5h10.2M559.3 824.4v10.2" stroke="#ff0000" stroke-width="2.85" fill="none"/>
<path d="M530.7 776.9h10.2M535.8 771.8v10.2" stroke="#ff0000" stroke-width="2.85" fill="none"/>
<path d="M544.1 780.4h10.2M549.2 775.3v10.2" stroke="#ff0000" stroke-width="2.85" fill="none"/>
<path d="M567.5 765.8h10.2M572.6 760.7v10.2" stroke="#ff0000" stroke-width="2.85" fill="none"/>
<path d="M576.8 765.3h10.2M581.9 760.2v10.2" stroke="#ff0000" stroke-width="2.85" fill="none"/>
<path d="M588.5 768.2h10.2M593.6 763.1v10.2" stroke="#ff0000" stroke-width="2.85" fill="none"/>
<path d="M562.8 778.1h10.2M567.9 773.0v10.2" stroke="#ff0000" stroke-width="2.85" fill="none"/>
<path d="M565.1 787.4h10.2M570.2 782.3v10.2" stroke="#ff0000" stroke-width="2.85" fill="none"/>
<path d="M531.8 789.8h10.2M536.9 784.7v10.2" stroke="#ff0000" stroke-width="2.85" fill="none"/>
<path d="M529.5 798.0h10.2M534.6 792.9v10.2" stroke="#ff0000" stroke-width="2.85" fill="none"/>
<path d="M546.4 795.0h10.2M551.5 789.9v10.2" stroke="#ff0000" stroke-width="2.85" fill="none"/>
<path d="M549.9 797.4h10.2M555.0 792.3v10.2" stroke="#ff0000" stroke-width="2.85" fill="none"/>
<path d="M547.6 799.7h10.2M552.7 794.6v10.2" stroke="#ff0000" stroke-width="2.85" fill="none"/>
<path d="M552.9 798.0h10.2M558.0 792.9v10.2" stroke="#ff0000" stroke-width="2.85" fill="none"/>
<path d="M563.9 798.5h10.2M569.0 793.4v10.2" stroke="#ff0000" stroke-width="2.85" fill="none"/>
<path d="M566.3 805.5h10.2M571.4 800.4v10.2" stroke="#ff0000" stroke-width="2.85" fill="none"/>
<path d="M559.3 807.9h10.2M564.4 802.8v10.2" stroke="#ff0000" stroke-width="2.85" fill="none"/>
<path d="M544.7 811.4h10.2M549.8 806.3v10.2" stroke="#ff0000" stroke-width="2.85" fill="none"/>
<path d="M525.4 814.3h10.2M530.5 809.2v10.2" stroke="#ff0000" stroke-width="2.85" fill="none"/>
<path d="M631.4 715.8h10.2M636.5 710.7v10.2" stroke="#ff0000" stroke-width="2.85" fill="none"/>
<path d="M619.6 746.6h10.2M624.7 741.5v10.2" stroke="#ff0000" stroke-width="2.85" fill="none"/>
<path d="M621.5 750.6h10.2M626.6 745.5v10.2" stroke="#ff0000" stroke-width="2.85" fill="none"/>
<path d="M632.7 742.0h10.2M637.8 736.9v10.2" stroke="#ff0000" stroke-width="2.85" fill="none"/>
<path d="M637.9 740.7h10.2M643.0 735.6v10.2" stroke="#ff0000" stroke-width="2.85" fill="none"/>
<path d="M652.4 738.1h10.2M657.5 733.0v10.2" stroke="#ff0000" stroke-width="2.85" fill="none"/>
<path d="M647.2 755.2h10.2M652.3 750.1v10.2" stroke="#ff0000" stroke-width="2.85" fill="none"/>
<path d="M626.1 756.5h10.2M631.2 751.4v10.2" stroke="#ff0000" stroke-width="2.85" fill="none"/>
<path d="M577.5 765.0h10.2M582.6 759.9v10.2" stroke="#ff0000" stroke-width="2.85" fill="none"/>
<path d="M588.7 767.0h10.2M593.8 761.9v10.2" stroke="#ff0000" stroke-width="2.85" fill="none"/>
<path d="M610.4 763.1h10.2M615.5 758.0v10.2" stroke="#ff0000" stroke-width="2.85" fill="none"/>
<path d="M614.3 767.0h10.2M619.4 761.9v10.2" stroke="#ff0000" stroke-width="2.85" fill="none"/>
<path d="M658.7 684.2h10.2M663.8 679.1v10.2" stroke="#ff0000" stroke-width="2.85" fill="none"/>
<path d="M656.5 691.7h10.2M661.6 686.6v10.2" stroke="#ff0000" stroke-width="2.85" fill="none"/>
<path d="M662.2 700.4h10.2M667.3 695.3v10.2" stroke="#ff0000" stroke-width="2.85" fill="none"/>
<path d="M657.8 709.2h10.2M662.9 704.1v10.2" stroke="#ff0000" stroke-width="2.85" fill="none"/>
<path d="M660.1 740.5h10.2M665.2 735.4v10.2" stroke="#ff0000" stroke-width="2.85" fill="none"/>
<path d="M657.9 745.2h10.2M663.0 740.1v10.2" stroke="#ff0000" stroke-width="2.85" fill="none"/>
<path d="M615.9 751.5h10.2M621.0 746.4v10.2" stroke="#ff0000" stroke-width="2.85" fill="none"/>
<path d="M662.2 754.7h10.2M667.3 749.6v10.2" stroke="#ff0000" stroke-width="2.85" fill="none"/>
<path d="M599.1 767.3h10.2M604.2 762.2v10.2" stroke="#ff0000" stroke-width="2.85" fill="none"/>
<path d="M611.7 764.1h10.2M616.8 759.0v10.2" stroke="#ff0000" stroke-width="2.85" fill="none"/>
<path d="M612.8 773.6h10.2M617.9 768.5v10.2" stroke="#ff0000" stroke-width="2.85" fill="none"/>
<path d="M630.6 764.1h10.2M635.7 759.0v10.2" stroke="#ff0000" stroke-width="2.85" fill="none"/>
<path d="M604.4 775.7h10.2M609.5 770.6v10.2" stroke="#ff0000" stroke-width="2.85" fill="none"/>
<path d="M619.1 776.8h10.2M624.2 771.7v10.2" stroke="#ff0000" stroke-width="2.85" fill="none"/>
<path d="M629.6 781.0h10.2M634.7 775.9v10.2" stroke="#ff0000" stroke-width="2.85" fill="none"/>
<path d="M622.2 785.2h10.2M627.3 780.1v10.2" stroke="#ff0000" stroke-width="2.85" fill="none"/>
<path d="M601.2 787.3h10.2M606.3 782.2v10.2" stroke="#ff0000" stroke-width="2.85" fill="none"/>
<path d="M597.0 790.4h10.2M602.1 785.3v10.2" stroke="#ff0000" stroke-width="2.85" fill="none"/>
<path d="M613.8 795.7h10.2M618.9 790.6v10.2" stroke="#ff0000" stroke-width="2.85" fill="none"/>
<path d="M626.4 792.5h10.2M631.5 787.4v10.2" stroke="#ff0000" stroke-width="2.85" fill="none"/>
<path d="M564.2 800.5h10.2M569.3 795.4v10.2" stroke="#ff0000" stroke-width="2.85" fill="none"/>
<path d="M558.4 807.5h10.2M563.5 802.4v10.2" stroke="#ff0000" stroke-width="2.85" fill="none"/>
<path d="M567.7 807.5h10.2M572.8 802.4v10.2" stroke="#ff0000" stroke-width="2.85" fill="none"/>
<path d="M559.6 829.7h10.2M564.7 824.6v10.2" stroke="#ff0000" stroke-width="2.85" fill="none"/>
<path d="M595.8 821.5h10.2M600.9 816.4v10.2" stroke="#ff0000" stroke-width="2.85" fill="none"/>
<path d="M593.4 826.2h10.2M598.5 821.1v10.2" stroke="#ff0000" stroke-width="2.85" fill="none"/>
<path d="M609.8 823.9h10.2M614.9 818.8v10.2" stroke="#ff0000" stroke-width="2.85" fill="none"/>
<path d="M620.3 804.0h10.2M625.4 798.9v10.2" stroke="#ff0000" stroke-width="2.85" fill="none"/>
<path d="M594.0 807.5h10.2M599.1 802.4v10.2" stroke="#ff0000" stroke-width="2.85" fill="none"/>
<path d="M600.4 797.0h10.2M605.5 791.9v10.2" stroke="#ff0000" stroke-width="2.85" fill="none"/>
<path d="M628.9 785.3h10.2M634.0 780.2v10.2" stroke="#ff0000" stroke-width="2.85" fill="none"/>
<path d="M623.7 794.9h10.2M628.8 789.8v10.2" stroke="#ff0000" stroke-width="2.85" fill="none"/>
<path d="M623.7 801.9h10.2M628.8 796.8v10.2" stroke="#ff0000" stroke-width="2.85" fill="none"/>
<path d="M583.0 779.7h10.2M588.1 774.6v10.2" stroke="#ff0000" stroke-width="2.85" fill="none"/>
<path d="M587.4 787.7h10.2M592.5 782.6v10.2" stroke="#ff0000" stroke-width="2.85" fill="none"/>
<path d="M559.0 802.2h10.2M564.1 797.1v10.2" stroke="#ff0000" stroke-width="2.85" fill="none"/>
<path d="M567.2 802.2h10.2M572.3 797.1v10.2" stroke="#ff0000" stroke-width="2.85" fill="none"/>
<path d="M609.1 786.9h10.2M614.2 781.8v10.2" stroke="#ff0000" stroke-width="2.85" fill="none"/>
<path d="M597.8 770.6h10.2M602.9 765.5v10.2" stroke="#ff0000" stroke-width="2.85" fill="none"/>
<rect x="552.0" y="760.6" width="9.6" height="9.4" fill="none" stroke="#ff0000" stroke-width="2.4"/>
<rect x="614.6" y="713.7" width="9.6" height="9.4" fill="none" stroke="#ff0000" stroke-width="2.4"/>
<rect x="629.7" y="718.9" width="9.6" height="9.4" fill="none" stroke="#ff0000" stroke-width="2.4"/>
<rect x="623.2" y="728.1" width="9.6" height="9.4" fill="none" stroke="#ff0000" stroke-width="2.4"/>
<rect x="654.7" y="707.8" width="9.6" height="9.4" fill="none" stroke="#ff0000" stroke-width="2.4"/>
<rect x="660.6" y="729.5" width="9.6" height="9.4" fill="none" stroke="#ff0000" stroke-width="2.4"/>
<rect x="638.4" y="643.6" width="9.6" height="9.4" fill="none" stroke="#ff0000" stroke-width="2.4"/>
<rect x="650.2" y="675.6" width="9.6" height="9.4" fill="none" stroke="#ff0000" stroke-width="2.4"/>
<rect x="608.3" y="763.6" width="9.6" height="9.4" fill="none" stroke="#ff0000" stroke-width="2.4"/>
<rect x="643.0" y="779.4" width="9.6" height="9.4" fill="none" stroke="#ff0000" stroke-width="2.4"/>
<rect x="617.1" y="794.6" width="9.6" height="9.4" fill="none" stroke="#ff0000" stroke-width="2.4"/>
<rect x="618.3" y="805.2" width="9.6" height="9.4" fill="none" stroke="#ff0000" stroke-width="2.4"/>
<rect x="598.9" y="789.6" width="9.6" height="9.4" fill="none" stroke="#ff0000" stroke-width="2.4"/>
<rect x="618.6" y="774.0" width="9.6" height="9.4" fill="none" stroke="#ff0000" stroke-width="2.4"/>
<rect x="617.0" y="816.8" width="9.6" height="9.4" fill="none" stroke="#ff0000" stroke-width="2.4"/></g>
<rect x="119.7" y="556.4" width="549.8" height="421.2" fill="none" stroke="#000" stroke-width="2.7"/>
<path d="M130.70 977.60v-4.2 M130.70 556.40v4.2 M141.69 977.60v-4.2 M141.69 556.40v4.2 M152.69 977.60v-4.2 M152.69 556.40v4.2 M163.68 977.60v-4.2 M163.68 556.40v4.2 M174.68 977.60v-4.2 M174.68 556.40v4.2 M185.68 977.60v-4.2 M185.68 556.40v4.2 M196.67 977.60v-4.2 M196.67 556.40v4.2 M207.67 977.60v-4.2 M207.67 556.40v4.2 M218.66 977.60v-4.2 M218.66 556.40v4.2 M229.66 977.60v-8.4 M229.66 556.40v8.4 M240.66 977.60v-4.2 M240.66 556.40v4.2 M251.65 977.60v-4.2 M251.65 556.40v4.2 M262.65 977.60v-4.2 M262.65 556.40v4.2 M273.64 977.60v-4.2 M273.64 556.40v4.2 M284.64 977.60v-4.2 M284.64 556.40v4.2 M295.64 977.60v-4.2 M295.64 556.40v4.2 M306.63 977.60v-4.2 M306.63 556.40v4.2 M317.63 977.60v-4.2 M317.63 556.40v4.2 M328.62 977.60v-4.2 M328.62 556.40v4.2 M339.62 977.60v-8.4 M339.62 556.40v8.4 M350.62 977.60v-4.2 M350.62 556.40v4.2 M361.61 977.60v-4.2 M361.61 556.40v4.2 M372.61 977.60v-4.2 M372.61 556.40v4.2 M383.60 977.60v-4.2 M383.60 556.40v4.2 M394.60 977.60v-4.2 M394.60 556.40v4.2 M405.60 977.60v-4.2 M405.60 556.40v4.2 M416.59 977.60v-4.2 M416.59 556.40v4.2 M427.59 977.60v-4.2 M427.59 556.40v4.2 M438.58 977.60v-4.2 M438.58 556.40v4.2 M449.58 977.60v-8.4 M449.58 556.40v8.4 M460.58 977.60v-4.2 M460.58 556.40v4.2 M471.57 977.60v-4.2 M471.57 556.40v4.2 M482.57 977.60v-4.2 M482.57 556.40v4.2 M493.56 977.60v-4.2 M493.56 556.40v4.2 M504.56 977.60v-4.2 M504.56 556.40v4.2 M515.56 977.60v-4.2 M515.56 556.40v4.2 M526.55 977.60v-4.2 M526.55 556.40v4.2 M537.55 977.60v-4.2 M537.55 556.40v4.2 M548.54 977.60v-4.2 M548.54 556.40v4.2 M559.54 977.60v-8.4 M559.54 556.40v8.4 M570.54 977.60v-4.2 M570.54 556.40v4.2 M581.53 977.60v-4.2 M581.53 556.40v4.2 M592.53 977.60v-4.2 M592.53 556.40v4.2 M603.52 977.60v-4.2 M603.52 556.40v4.2 M614.52 977.60v-4.2 M614.52 556.40v4.2 M625.52 977.60v-4.2 M625.52 556.40v4.2 M636.51 977.60v-4.2 M636.51 556.40v4.2 M647.51 977.60v-4.2 M647.51 556.40v4.2 M658.50 977.60v-4.2 M658.50 556.40v4.2 M119.70 956.54h5.5 M669.50 956.54h-5.5 M119.70 935.48h5.5 M669.50 935.48h-5.5 M119.70 914.42h5.5 M669.50 914.42h-5.5 M119.70 893.36h11 M669.50 893.36h-11 M119.70 872.30h5.5 M669.50 872.30h-5.5 M119.70 851.24h5.5 M669.50 851.24h-5.5 M119.70 830.18h5.5 M669.50 830.18h-5.5 M119.70 809.12h11 M669.50 809.12h-11 M119.70 788.06h5.5 M669.50 788.06h-5.5 M119.70 767.00h5.5 M669.50 767.00h-5.5 M119.70 745.94h5.5 M669.50 745.94h-5.5 M119.70 724.88h11 M669.50 724.88h-11 M119.70 703.82h5.5 M669.50 703.82h-5.5 M119.70 682.76h5.5 M669.50 682.76h-5.5 M119.70 661.70h5.5 M669.50 661.70h-5.5 M119.70 640.64h11 M669.50 640.64h-11 M119.70 619.58h5.5 M669.50 619.58h-5.5 M119.70 598.52h5.5 M669.50 598.52h-5.5 M119.70 577.46h5.5 M669.50 577.46h-5.5" stroke="#000" stroke-width="2.5" fill="none"/>
<text x="119.70" y="1012.70" text-anchor="middle" font-size="28.5" font-family="Liberation Sans, sans-serif" font-weight="bold">40</text>
<text x="229.66" y="1012.70" text-anchor="middle" font-size="28.5" font-family="Liberation Sans, sans-serif" font-weight="bold">50</text>
<text x="339.62" y="1012.70" text-anchor="middle" font-size="28.5" font-family="Liberation Sans, sans-serif" font-weight="bold">60</text>
<text x="449.58" y="1012.70" text-anchor="middle" font-size="28.5" font-family="Liberation Sans, sans-serif" font-weight="bold">70</text>
<text x="559.54" y="1012.70" text-anchor="middle" font-size="28.5" font-family="Liberation Sans, sans-serif" font-weight="bold">80</text>
<text x="669.50" y="1012.70" text-anchor="middle" font-size="28.5" font-family="Liberation Sans, sans-serif" font-weight="bold">90</text>
<text x="112.6" y="977.30" text-anchor="end" font-size="28.5" font-family="Liberation Sans, sans-serif" font-weight="bold">100</text>
<text x="112.6" y="903.36" text-anchor="end" font-size="28.5" font-family="Liberation Sans, sans-serif" font-weight="bold">120</text>
<text x="112.6" y="819.12" text-anchor="end" font-size="28.5" font-family="Liberation Sans, sans-serif" font-weight="bold">140</text>
<text x="112.6" y="734.88" text-anchor="end" font-size="28.5" font-family="Liberation Sans, sans-serif" font-weight="bold">160</text>
<text x="112.6" y="650.64" text-anchor="end" font-size="28.5" font-family="Liberation Sans, sans-serif" font-weight="bold">180</text>
<text x="112.6" y="572.90" text-anchor="end" font-size="28.5" font-family="Liberation Sans, sans-serif" font-weight="bold">200</text>
<text x="395" y="1043.00" text-anchor="middle" font-size="28.5" font-family="Liberation Sans, sans-serif" font-weight="bold">SZA (degrees)</text>
<text transform="translate(20.6 766.10) rotate(-90)" text-anchor="middle" font-size="28.2" font-family="Liberation Sans, sans-serif" font-weight="bold">Altitude of peak</text>
<text transform="translate(43.3 766.10) rotate(-90)" text-anchor="middle" font-size="28.2" font-family="Liberation Sans, sans-serif" font-weight="bold">electron density (km)</text>
<polyline points="119.70,882.13 120.80,882.07 121.90,882.01 123.00,881.95 124.10,881.89 125.20,881.82 126.30,881.76 127.40,881.70 128.50,881.63 129.60,881.57 130.70,881.51 131.80,881.44 132.90,881.38 133.99,881.31 135.09,881.25 136.19,881.18 137.29,881.12 138.39,881.05 139.49,880.99 140.59,880.92 141.69,880.86 142.79,880.79 143.89,880.72 144.99,880.66 146.09,880.59 147.19,880.52 148.29,880.45 149.39,880.39 150.49,880.32 151.59,880.25 152.69,880.18 153.79,880.11 154.89,880.04 155.99,879.98 157.09,879.91 158.19,879.84 159.29,879.77 160.39,879.70 161.48,879.63 162.58,879.56 163.68,879.48 164.78,879.41 165.88,879.34 166.98,879.27 168.08,879.20 169.18,879.13 170.28,879.05 171.38,878.98 172.48,878.91 173.58,878.84 174.68,878.76 175.78,878.69 176.88,878.61 177.98,878.54 179.08,878.47 180.18,878.39 181.28,878.32 182.38,878.24 183.48,878.17 184.58,878.09 185.68,878.01 186.78,877.94 187.88,877.86 188.97,877.78 190.07,877.71 191.17,877.63 192.27,877.55 193.37,877.47 194.47,877.40 195.57,877.32 196.67,877.24 197.77,877.16 198.87,877.08 199.97,877.00 201.07,876.92 202.17,876.84 203.27,876.76 204.37,876.68 205.47,876.60 206.57,876.52 207.67,876.44 208.77,876.36 209.87,876.27 210.97,876.19 212.07,876.11 213.17,876.03 214.27,875.94 215.37,875.86 216.46,875.77 217.56,875.69 218.66,875.61 219.76,875.52 220.86,875.44 221.96,875.35 223.06,875.27 224.16,875.18 225.26,875.09 226.36,875.01 227.46,874.92 228.56,874.83 229.66,874.75 230.76,874.66 231.86,874.57 232.96,874.48 234.06,874.39 235.16,874.30 236.26,874.21 237.36,874.12 238.46,874.03 239.56,873.94 240.66,873.85 241.76,873.76 242.86,873.67 243.95,873.58 245.05,873.49 246.15,873.40 247.25,873.30 248.35,873.21 249.45,873.12 250.55,873.02 251.65,872.93 252.75,872.84 253.85,872.74 254.95,872.65 256.05,872.55 257.15,872.45 258.25,872.36 259.35,872.26 260.45,872.17 261.55,872.07 262.65,871.97 263.75,871.87 264.85,871.78 265.95,871.68 267.05,871.58 268.15,871.48 269.25,871.38 270.35,871.28 271.44,871.18 272.54,871.08 273.64,870.98 274.74,870.88 275.84,870.77 276.94,870.67 278.04,870.57 279.14,870.47 280.24,870.36 281.34,870.26 282.44,870.16 283.54,870.05 284.64,869.95 285.74,869.84 286.84,869.74 287.94,869.63 289.04,869.52 290.14,869.42 291.24,869.31 292.34,869.20 293.44,869.09 294.54,868.99 295.64,868.88 296.74,868.77 297.84,868.66 298.93,868.55 300.03,868.44 301.13,868.33 302.23,868.22 303.33,868.10 304.43,867.99 305.53,867.88 306.63,867.77 307.73,867.65 308.83,867.54 309.93,867.42 311.03,867.31 312.13,867.20 313.23,867.08 314.33,866.96 315.43,866.85 316.53,866.73 317.63,866.61 318.73,866.49 319.83,866.38 320.93,866.26 322.03,866.14 323.13,866.02 324.23,865.90 325.33,865.78 326.42,865.66 327.52,865.53 328.62,865.41 329.72,865.29 330.82,865.17 331.92,865.04 333.02,864.92 334.12,864.79 335.22,864.67 336.32,864.54 337.42,864.42 338.52,864.29 339.62,864.16 340.72,864.04 341.82,863.91 342.92,863.78 344.02,863.65 345.12,863.52 346.22,863.39 347.32,863.26 348.42,863.13 349.52,863.00 350.62,862.87 351.72,862.73 352.82,862.60 353.91,862.46 355.01,862.33 356.11,862.20 357.21,862.06 358.31,861.92 359.41,861.79 360.51,861.65 361.61,861.51 362.71,861.37 363.81,861.23 364.91,861.09 366.01,860.95 367.11,860.81 368.21,860.67 369.31,860.53 370.41,860.39 371.51,860.24 372.61,860.10 373.71,859.95 374.81,859.81 375.91,859.66 377.01,859.52 378.11,859.37 379.21,859.22 380.31,859.07 381.40,858.92 382.50,858.77 383.60,858.62 384.70,858.47 385.80,858.32 386.90,858.17 388.00,858.02 389.10,857.86 390.20,857.71 391.30,857.55 392.40,857.40 393.50,857.24 394.60,857.08 395.70,856.92 396.80,856.77 397.90,856.61 399.00,856.45 400.10,856.29 401.20,856.12 402.30,855.96 403.40,855.80 404.50,855.63 405.60,855.47 406.70,855.30 407.80,855.14 408.89,854.97 409.99,854.80 411.09,854.63 412.19,854.46 413.29,854.29 414.39,854.12 415.49,853.95 416.59,853.78 417.69,853.60 418.79,853.43 419.89,853.25 420.99,853.08 422.09,852.90 423.19,852.72 424.29,852.55 425.39,852.37 426.49,852.18 427.59,852.00 428.69,851.82 429.79,851.64 430.89,851.45 431.99,851.27 433.09,851.08 434.19,850.89 435.29,850.71 436.38,850.52 437.48,850.33 438.58,850.14 439.68,849.94 440.78,849.75 441.88,849.56 442.98,849.36 444.08,849.17 445.18,848.97 446.28,848.77 447.38,848.57 448.48,848.37 449.58,848.17 450.68,847.97 451.78,847.76 452.88,847.56 453.98,847.35 455.08,847.15 456.18,846.94 457.28,846.73 458.38,846.52 459.48,846.31 460.58,846.09 461.68,845.88 462.78,845.66 463.87,845.45 464.97,845.23 466.07,845.01 467.17,844.79 468.27,844.57 469.37,844.35 470.47,844.12 471.57,843.90 472.67,843.67 473.77,843.44 474.87,843.21 475.97,842.98 477.07,842.75 478.17,842.51 479.27,842.28 480.37,842.04 481.47,841.80 482.57,841.56 483.67,841.32 484.77,841.08 485.87,840.84 486.97,840.59 488.07,840.34 489.17,840.09 490.27,839.84 491.36,839.59 492.46,839.34 493.56,839.08 494.66,838.82 495.76,838.57 496.86,838.30 497.96,838.04 499.06,837.78 500.16,837.51 501.26,837.24 502.36,836.97 503.46,836.70 504.56,836.43 505.66,836.15 506.76,835.88 507.86,835.60 508.96,835.32 510.06,835.03 511.16,834.75 512.26,834.46 513.36,834.17 514.46,833.88 515.56,833.59 516.66,833.29 517.76,832.99 518.85,832.69 519.95,832.39 521.05,832.08 522.15,831.78 523.25,831.47 524.35,831.15 525.45,830.84 526.55,830.52 527.65,830.20 528.75,829.88 529.85,829.56 530.95,829.23 532.05,828.90 533.15,828.56 534.25,828.23 535.35,827.89 536.45,827.55 537.55,827.20 538.65,826.86 539.75,826.51 540.85,826.15 541.95,825.80 543.05,825.44 544.15,825.07 545.25,824.71 546.34,824.34 547.44,823.97 548.54,823.59 549.64,823.21 550.74,822.83 551.84,822.44 552.94,822.05 554.04,821.65 555.14,821.25 556.24,820.85 557.34,820.44 558.44,820.03 559.54,819.62 560.64,819.20 561.74,818.78 562.84,818.35 563.94,817.92 565.04,817.48 566.14,817.04 567.24,816.59 568.34,816.14 569.44,815.68 570.54,815.22 571.64,814.76 572.74,814.28 573.83,813.81 574.93,813.32 576.03,812.83 577.13,812.34 578.23,811.84 579.33,811.33 580.43,810.82 581.53,810.30 582.63,809.77 583.73,809.24 584.83,808.70 585.93,808.15 587.03,807.60 588.13,807.03 589.23,806.46 590.33,805.89 591.43,805.30 592.53,804.71 593.63,804.10 594.73,803.49 595.83,802.87 596.93,802.24 598.03,801.60 599.13,800.95 600.23,800.29 601.32,799.62 602.42,798.93 603.52,798.24 604.62,797.54 605.72,796.82 606.82,796.09 607.92,795.34 609.02,794.59 610.12,793.82 611.22,793.03 612.32,792.23 613.42,791.42 614.52,790.58 615.62,789.74 616.72,788.87 617.82,787.98 618.92,787.08 620.02,786.16 621.12,785.21 622.22,784.25 623.32,783.26 624.42,782.24 625.52,781.21 626.62,780.14 627.72,779.05 628.81,777.93 629.91,776.77 631.01,775.59 632.11,774.37 633.21,773.11 634.31,771.82 635.41,770.48 636.51,769.10 637.61,767.68 638.71,766.20 639.81,764.67 640.91,763.08 642.01,761.43 643.11,759.71 644.21,757.92 645.31,756.05 646.41,754.09 647.51,752.04 648.61,749.88 649.71,747.60 650.81,745.19 651.91,742.64 653.01,739.92 654.11,737.02 655.21,733.90 656.30,730.52 657.40,726.86 658.50,722.85" fill="none" stroke="#00ffff" stroke-width="2.6"/>
<polyline points="119.70,840.01 120.80,839.95 121.90,839.89 123.00,839.83 124.10,839.77 125.20,839.70 126.30,839.64 127.40,839.58 128.50,839.51 129.60,839.45 130.70,839.39 131.80,839.32 132.90,839.26 133.99,839.19 135.09,839.13 136.19,839.06 137.29,839.00 138.39,838.93 139.49,838.87 140.59,838.80 141.69,838.74 142.79,838.67 143.89,838.60 144.99,838.54 146.09,838.47 147.19,838.40 148.29,838.33 149.39,838.27 150.49,838.20 151.59,838.13 152.69,838.06 153.79,837.99 154.89,837.92 155.99,837.86 157.09,837.79 158.19,837.72 159.29,837.65 160.39,837.58 161.48,837.51 162.58,837.44 163.68,837.36 164.78,837.29 165.88,837.22 166.98,837.15 168.08,837.08 169.18,837.01 170.28,836.93 171.38,836.86 172.48,836.79 173.58,836.72 174.68,836.64 175.78,836.57 176.88,836.49 177.98,836.42 179.08,836.35 180.18,836.27 181.28,836.20 182.38,836.12 183.48,836.05 184.58,835.97 185.68,835.89 186.78,835.82 187.88,835.74 188.97,835.66 190.07,835.59 191.17,835.51 192.27,835.43 193.37,835.35 194.47,835.28 195.57,835.20 196.67,835.12 197.77,835.04 198.87,834.96 199.97,834.88 201.07,834.80 202.17,834.72 203.27,834.64 204.37,834.56 205.47,834.48 206.57,834.40 207.67,834.32 208.77,834.24 209.87,834.15 210.97,834.07 212.07,833.99 213.17,833.91 214.27,833.82 215.37,833.74 216.46,833.65 217.56,833.57 218.66,833.49 219.76,833.40 220.86,833.32 221.96,833.23 223.06,833.15 224.16,833.06 225.26,832.97 226.36,832.89 227.46,832.80 228.56,832.71 229.66,832.63 230.76,832.54 231.86,832.45 232.96,832.36 234.06,832.27 235.16,832.18 236.26,832.09 237.36,832.00 238.46,831.91 239.56,831.82 240.66,831.73 241.76,831.64 242.86,831.55 243.95,831.46 245.05,831.37 246.15,831.28 247.25,831.18 248.35,831.09 249.45,831.00 250.55,830.90 251.65,830.81 252.75,830.72 253.85,830.62 254.95,830.53 256.05,830.43 257.15,830.33 258.25,830.24 259.35,830.14 260.45,830.05 261.55,829.95 262.65,829.85 263.75,829.75 264.85,829.66 265.95,829.56 267.05,829.46 268.15,829.36 269.25,829.26 270.35,829.16 271.44,829.06 272.54,828.96 273.64,828.86 274.74,828.76 275.84,828.65 276.94,828.55 278.04,828.45 279.14,828.35 280.24,828.24 281.34,828.14 282.44,828.04 283.54,827.93 284.64,827.83 285.74,827.72 286.84,827.62 287.94,827.51 289.04,827.40 290.14,827.30 291.24,827.19 292.34,827.08 293.44,826.97 294.54,826.87 295.64,826.76 296.74,826.65 297.84,826.54 298.93,826.43 300.03,826.32 301.13,826.21 302.23,826.10 303.33,825.98 304.43,825.87 305.53,825.76 306.63,825.65 307.73,825.53 308.83,825.42 309.93,825.30 311.03,825.19 312.13,825.08 313.23,824.96 314.33,824.84 315.43,824.73 316.53,824.61 317.63,824.49 318.73,824.37 319.83,824.26 320.93,824.14 322.03,824.02 323.13,823.90 324.23,823.78 325.33,823.66 326.42,823.54 327.52,823.41 328.62,823.29 329.72,823.17 330.82,823.05 331.92,822.92 333.02,822.80 334.12,822.67 335.22,822.55 336.32,822.42 337.42,822.30 338.52,822.17 339.62,822.04 340.72,821.92 341.82,821.79 342.92,821.66 344.02,821.53 345.12,821.40 346.22,821.27 347.32,821.14 348.42,821.01 349.52,820.88 350.62,820.75 351.72,820.61 352.82,820.48 353.91,820.34 355.01,820.21 356.11,820.08 357.21,819.94 358.31,819.80 359.41,819.67 360.51,819.53 361.61,819.39 362.71,819.25 363.81,819.11 364.91,818.97 366.01,818.83 367.11,818.69 368.21,818.55 369.31,818.41 370.41,818.27 371.51,818.12 372.61,817.98 373.71,817.83 374.81,817.69 375.91,817.54 377.01,817.40 378.11,817.25 379.21,817.10 380.31,816.95 381.40,816.80 382.50,816.65 383.60,816.50 384.70,816.35 385.80,816.20 386.90,816.05 388.00,815.90 389.10,815.74 390.20,815.59 391.30,815.43 392.40,815.28 393.50,815.12 394.60,814.96 395.70,814.80 396.80,814.65 397.90,814.49 399.00,814.33 400.10,814.17 401.20,814.00 402.30,813.84 403.40,813.68 404.50,813.51 405.60,813.35 406.70,813.18 407.80,813.02 408.89,812.85 409.99,812.68 411.09,812.51 412.19,812.34 413.29,812.17 414.39,812.00 415.49,811.83 416.59,811.66 417.69,811.48 418.79,811.31 419.89,811.13 420.99,810.96 422.09,810.78 423.19,810.60 424.29,810.43 425.39,810.25 426.49,810.06 427.59,809.88 428.69,809.70 429.79,809.52 430.89,809.33 431.99,809.15 433.09,808.96 434.19,808.77 435.29,808.59 436.38,808.40 437.48,808.21 438.58,808.02 439.68,807.82 440.78,807.63 441.88,807.44 442.98,807.24 444.08,807.05 445.18,806.85 446.28,806.65 447.38,806.45 448.48,806.25 449.58,806.05 450.68,805.85 451.78,805.64 452.88,805.44 453.98,805.23 455.08,805.03 456.18,804.82 457.28,804.61 458.38,804.40 459.48,804.19 460.58,803.97 461.68,803.76 462.78,803.54 463.87,803.33 464.97,803.11 466.07,802.89 467.17,802.67 468.27,802.45 469.37,802.23 470.47,802.00 471.57,801.78 472.67,801.55 473.77,801.32 474.87,801.09 475.97,800.86 477.07,800.63 478.17,800.39 479.27,800.16 480.37,799.92 481.47,799.68 482.57,799.44 483.67,799.20 484.77,798.96 485.87,798.72 486.97,798.47 488.07,798.22 489.17,797.97 490.27,797.72 491.36,797.47 492.46,797.22 493.56,796.96 494.66,796.70 495.76,796.45 496.86,796.18 497.96,795.92 499.06,795.66 500.16,795.39 501.26,795.12 502.36,794.85 503.46,794.58 504.56,794.31 505.66,794.03 506.76,793.76 507.86,793.48 508.96,793.20 510.06,792.91 511.16,792.63 512.26,792.34 513.36,792.05 514.46,791.76 515.56,791.47 516.66,791.17 517.76,790.87 518.85,790.57 519.95,790.27 521.05,789.96 522.15,789.66 523.25,789.35 524.35,789.03 525.45,788.72 526.55,788.40 527.65,788.08 528.75,787.76 529.85,787.44 530.95,787.11 532.05,786.78 533.15,786.44 534.25,786.11 535.35,785.77 536.45,785.43 537.55,785.08 538.65,784.74 539.75,784.39 540.85,784.03 541.95,783.68 543.05,783.32 544.15,782.95 545.25,782.59 546.34,782.22 547.44,781.85 548.54,781.47 549.64,781.09 550.74,780.71 551.84,780.32 552.94,779.93 554.04,779.53 555.14,779.13 556.24,778.73 557.34,778.32 558.44,777.91 559.54,777.50 560.64,777.08 561.74,776.66 562.84,776.23 563.94,775.80 565.04,775.36 566.14,774.92 567.24,774.47 568.34,774.02 569.44,773.56 570.54,773.10 571.64,772.64 572.74,772.16 573.83,771.69 574.93,771.20 576.03,770.71 577.13,770.22 578.23,769.72 579.33,769.21 580.43,768.70 581.53,768.18 582.63,767.65 583.73,767.12 584.83,766.58 585.93,766.03 587.03,765.48 588.13,764.91 589.23,764.34 590.33,763.77 591.43,763.18 592.53,762.59 593.63,761.98 594.73,761.37 595.83,760.75 596.93,760.12 598.03,759.48 599.13,758.83 600.23,758.17 601.32,757.50 602.42,756.81 603.52,756.12 604.62,755.42 605.72,754.70 606.82,753.97 607.92,753.22 609.02,752.47 610.12,751.70 611.22,750.91 612.32,750.11 613.42,749.30 614.52,748.46 615.62,747.62 616.72,746.75 617.82,745.86 618.92,744.96 620.02,744.04 621.12,743.09 622.22,742.13 623.32,741.14 624.42,740.12 625.52,739.09 626.62,738.02 627.72,736.93 628.81,735.81 629.91,734.65 631.01,733.47 632.11,732.25 633.21,730.99 634.31,729.70 635.41,728.36 636.51,726.98 637.61,725.56 638.71,724.08 639.81,722.55 640.91,720.96 642.01,719.31 643.11,717.59 644.21,715.80 645.31,713.93 646.41,711.97 647.51,709.92 648.61,707.76 649.71,705.48 650.81,703.07 651.91,700.52 653.01,697.80 654.11,694.90 655.21,691.78 656.30,688.40 657.40,684.74 658.50,680.73" fill="none" stroke="#00ff00" stroke-width="2.6"/>
<path d="M146.2 584.6L159.8 584.6L154.0 572.6L152.0 572.6ZM150.3 581.7L155.7 581.7L153.0 576.0Z" fill="#999999" fill-rule="evenodd"/>
<rect x="148.0" y="594.9" width="9.6" height="9.4" fill="none" stroke="#999999" stroke-width="2.4"/>
<path d="M147.7 620.7h10.2M152.8 615.6v10.2" stroke="#999999" stroke-width="2.85" fill="none"/>
<path d="M152.8 637.5L157.4 641.8L152.8 646.1L148.2 641.8Z" fill="none" stroke="#999999" stroke-width="2.6"/>
<path d="M141.4 662.8H164" stroke="#00ffff" stroke-width="3"/>
<path d="M141.4 683.9H164" stroke="#ff00ff" stroke-width="3"/>
<path d="M141.4 705.0H164" stroke="#00ff00" stroke-width="3"/>
<text x="175.4" y="586.9" font-size="19" font-family="Liberation Sans, sans-serif" font-weight="bold">Mariner 9</text>
<text x="175.4" y="607.9" font-size="19" textLength="123.70" lengthAdjust="spacing" font-family="Liberation Sans, sans-serif" font-weight="bold">Viking Orbiter</text>
<text x="175.4" y="629.0" font-size="19" textLength="125.64" lengthAdjust="spacing" font-family="Liberation Sans, sans-serif" font-weight="bold">MAVEN ROSE</text>
<text x="175.4" y="650.1" font-size="19" textLength="123.70" lengthAdjust="spacing" font-family="Liberation Sans, sans-serif" font-weight="bold">Viking Lander</text>
<text x="175.4" y="671.1" font-size="19" textLength="204.36" lengthAdjust="spacing" font-family="Liberation Sans, sans-serif" font-weight="bold">Zo = 120 km, L = 10 km</text>
<text x="175.4" y="692.2" font-size="19" textLength="194.29" lengthAdjust="spacing" font-family="Liberation Sans, sans-serif" font-weight="bold">Zo = 130 km, L = 5 km</text>
<text x="175.4" y="713.3" font-size="19" textLength="204.36" lengthAdjust="spacing" font-family="Liberation Sans, sans-serif" font-weight="bold">Zo = 130 km, L = 10 km</text>
<text x="395.3" y="598.8" font-size="18.6" fill="#ff0000" font-family="Liberation Sans, sans-serif" font-weight="bold">Red</text>
<text x="455.6" y="598.8" font-size="18.6" fill="#ff0000" font-family="Liberation Sans, sans-serif" font-weight="bold">r &lt; 1.44 AU</text>
<text x="395.3" y="619.4" font-size="18.6" fill="#000000" font-family="Liberation Sans, sans-serif" font-weight="bold">Black</text>
<text x="455.6" y="619.4" font-size="18.6" fill="#000000" font-family="Liberation Sans, sans-serif" font-weight="bold">intermediate r</text>
<text x="395.3" y="640.5" font-size="18.6" fill="#0000ff" font-family="Liberation Sans, sans-serif" font-weight="bold">Blue</text>
<text x="455.6" y="640.5" font-size="18.6" fill="#0000ff" font-family="Liberation Sans, sans-serif" font-weight="bold">r &gt; 1.62 AU</text>
</svg></body></html>
